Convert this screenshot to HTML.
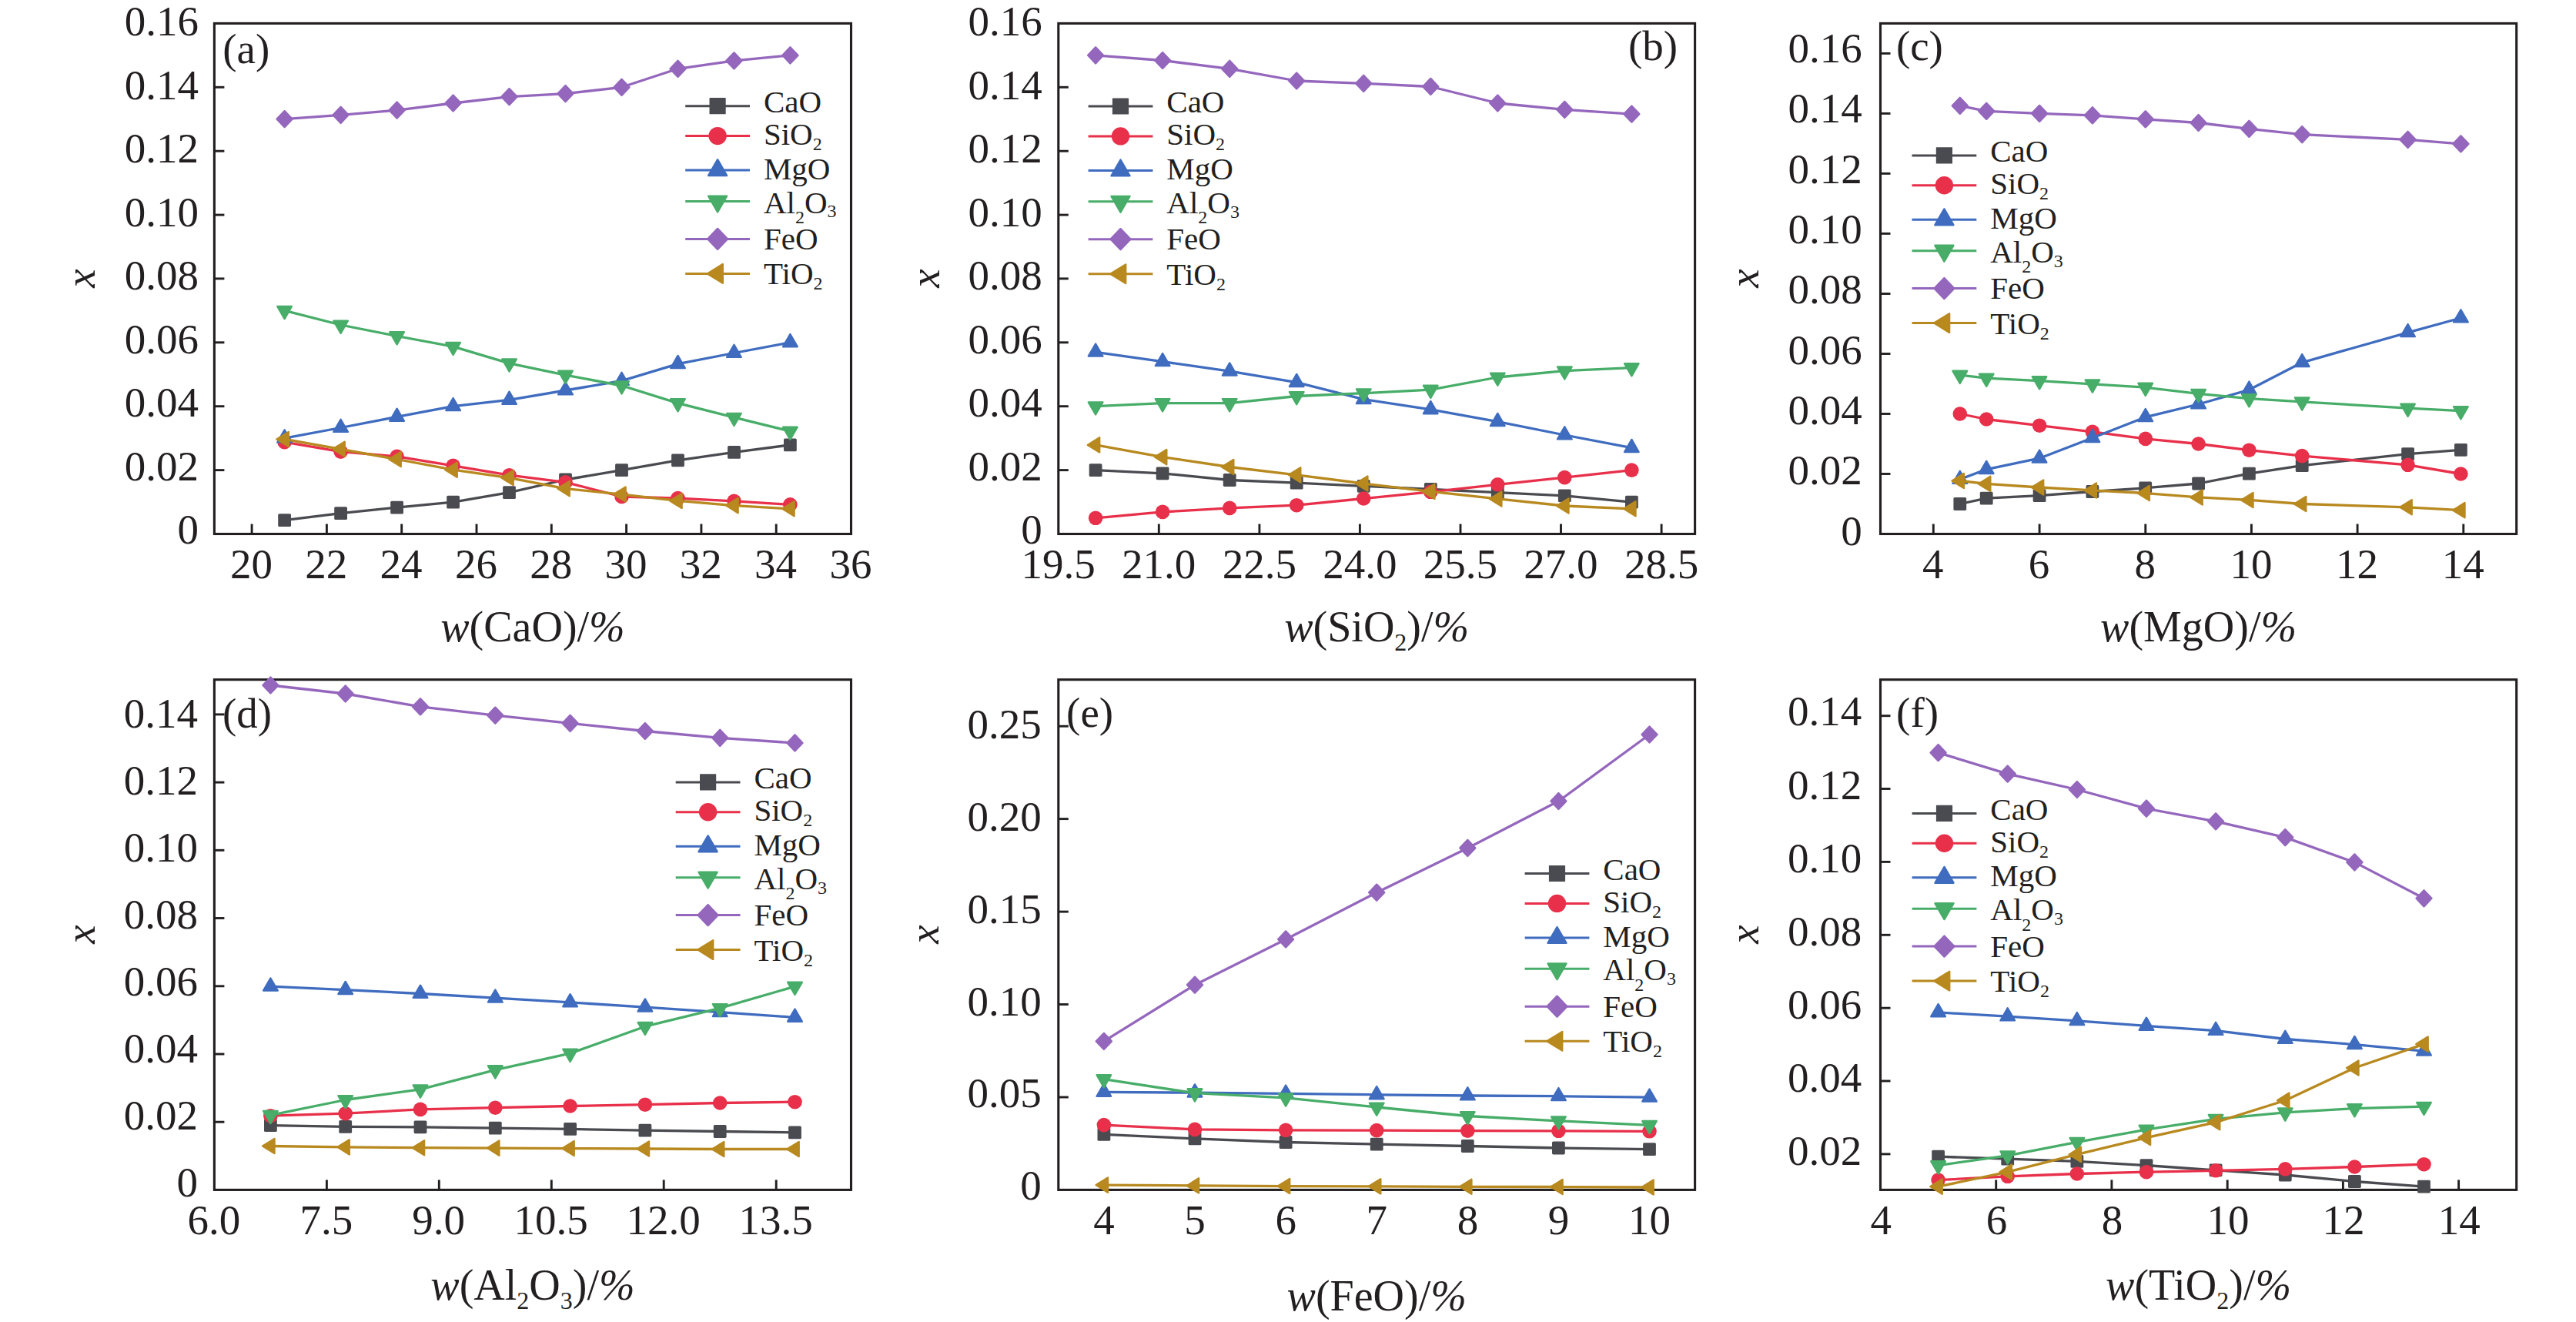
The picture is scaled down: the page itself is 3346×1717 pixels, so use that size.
<!DOCTYPE html>
<html lang="en">
<head>
<meta charset="utf-8">
<title>Component fractions versus slag composition</title>
<style>
html,body{margin:0;padding:0;background:#fff;}
body{width:3346px;height:1717px;overflow:hidden;}
svg{display:block;}
svg text{font-family:"Liberation Serif","Times New Roman",Times,serif;fill:#231f20;}
</style>
</head>
<body>
<svg width="3346" height="1717" viewBox="0 0 3346 1717">
<rect x="0" y="0" width="3346" height="1717" fill="#ffffff"/>
<g>
<line x1="327.1" y1="693.5" x2="327.1" y2="680.5" stroke="#231f20" stroke-width="2.9"/>
<line x1="424.4" y1="693.5" x2="424.4" y2="680.5" stroke="#231f20" stroke-width="2.9"/>
<line x1="521.7" y1="693.5" x2="521.7" y2="680.5" stroke="#231f20" stroke-width="2.9"/>
<line x1="619" y1="693.5" x2="619" y2="680.5" stroke="#231f20" stroke-width="2.9"/>
<line x1="716.3" y1="693.5" x2="716.3" y2="680.5" stroke="#231f20" stroke-width="2.9"/>
<line x1="813.6" y1="693.5" x2="813.6" y2="680.5" stroke="#231f20" stroke-width="2.9"/>
<line x1="910.9" y1="693.5" x2="910.9" y2="680.5" stroke="#231f20" stroke-width="2.9"/>
<line x1="1008.2" y1="693.5" x2="1008.2" y2="680.5" stroke="#231f20" stroke-width="2.9"/>
<line x1="278.4" y1="610.6" x2="291.4" y2="610.6" stroke="#231f20" stroke-width="2.9"/>
<line x1="278.4" y1="527.7" x2="291.4" y2="527.7" stroke="#231f20" stroke-width="2.9"/>
<line x1="278.4" y1="444.8" x2="291.4" y2="444.8" stroke="#231f20" stroke-width="2.9"/>
<line x1="278.4" y1="361.9" x2="291.4" y2="361.9" stroke="#231f20" stroke-width="2.9"/>
<line x1="278.4" y1="279.1" x2="291.4" y2="279.1" stroke="#231f20" stroke-width="2.9"/>
<line x1="278.4" y1="196.2" x2="291.4" y2="196.2" stroke="#231f20" stroke-width="2.9"/>
<line x1="278.4" y1="113.3" x2="291.4" y2="113.3" stroke="#231f20" stroke-width="2.9"/>
<rect x="278.4" y="30.4" width="827.1" height="663.1" fill="none" stroke="#231f20" stroke-width="3.1"/>
<text x="326.5" y="750.7" font-size="55" text-anchor="middle">20</text>
<text x="423.8" y="750.7" font-size="55" text-anchor="middle">22</text>
<text x="521.1" y="750.7" font-size="55" text-anchor="middle">24</text>
<text x="618.4" y="750.7" font-size="55" text-anchor="middle">26</text>
<text x="715.7" y="750.7" font-size="55" text-anchor="middle">28</text>
<text x="813" y="750.7" font-size="55" text-anchor="middle">30</text>
<text x="910.3" y="750.7" font-size="55" text-anchor="middle">32</text>
<text x="1007.6" y="750.7" font-size="55" text-anchor="middle">34</text>
<text x="1104.9" y="750.7" font-size="55" text-anchor="middle">36</text>
<text x="257.9" y="706.2" font-size="55" text-anchor="end">0</text>
<text x="257.9" y="623.7" font-size="55" text-anchor="end">0.02</text>
<text x="257.9" y="541.1" font-size="55" text-anchor="end">0.04</text>
<text x="257.9" y="458.6" font-size="55" text-anchor="end">0.06</text>
<text x="257.9" y="376.1" font-size="55" text-anchor="end">0.08</text>
<text x="257.9" y="293.6" font-size="55" text-anchor="end">0.10</text>
<text x="257.9" y="211" font-size="55" text-anchor="end">0.12</text>
<text x="257.9" y="128.5" font-size="55" text-anchor="end">0.14</text>
<text x="257.9" y="46" font-size="55" text-anchor="end">0.16</text>
<text x="692" y="833" font-size="56" text-anchor="middle"><tspan font-style="italic">w</tspan>(CaO)/<tspan font-style="italic">%</tspan></text>
<text transform="translate(122.7,361.6) rotate(-90)" font-size="55" text-anchor="middle" font-style="italic">x</text>
<text x="289.2" y="82" font-size="55" text-anchor="start">(a)</text>
<polyline points="369.6,675.7 442.6,666.6 515.6,659.1 588.6,652.1 661.5,639.6 734.5,623 807.5,610.6 880.5,597.8 953.5,587.4 1026.4,577.9" fill="none" stroke="#4a4b50" stroke-width="3.3" stroke-linejoin="round"/>
<rect x="361.2" y="667.3" width="16.8" height="16.8" rx="1.6" fill="#4a4b50"/>
<rect x="434.2" y="658.2" width="16.8" height="16.8" rx="1.6" fill="#4a4b50"/>
<rect x="507.2" y="650.7" width="16.8" height="16.8" rx="1.6" fill="#4a4b50"/>
<rect x="580.2" y="643.7" width="16.8" height="16.8" rx="1.6" fill="#4a4b50"/>
<rect x="653.1" y="631.2" width="16.8" height="16.8" rx="1.6" fill="#4a4b50"/>
<rect x="726.1" y="614.6" width="16.8" height="16.8" rx="1.6" fill="#4a4b50"/>
<rect x="799.1" y="602.2" width="16.8" height="16.8" rx="1.6" fill="#4a4b50"/>
<rect x="872.1" y="589.4" width="16.8" height="16.8" rx="1.6" fill="#4a4b50"/>
<rect x="945.1" y="579" width="16.8" height="16.8" rx="1.6" fill="#4a4b50"/>
<rect x="1018" y="569.5" width="16.8" height="16.8" rx="1.6" fill="#4a4b50"/>
<polyline points="369.6,574.1 442.6,586.6 515.6,592.8 588.6,604.8 661.5,617.2 734.5,626.4 807.5,645 880.5,647.1 953.5,650.8 1026.4,655.4" fill="none" stroke="#e8304a" stroke-width="3.3" stroke-linejoin="round"/>
<circle cx="369.6" cy="574.1" r="9.3" fill="#e8304a"/>
<circle cx="442.6" cy="586.6" r="9.3" fill="#e8304a"/>
<circle cx="515.6" cy="592.8" r="9.3" fill="#e8304a"/>
<circle cx="588.6" cy="604.8" r="9.3" fill="#e8304a"/>
<circle cx="661.5" cy="617.2" r="9.3" fill="#e8304a"/>
<circle cx="734.5" cy="626.4" r="9.3" fill="#e8304a"/>
<circle cx="807.5" cy="645" r="9.3" fill="#e8304a"/>
<circle cx="880.5" cy="647.1" r="9.3" fill="#e8304a"/>
<circle cx="953.5" cy="650.8" r="9.3" fill="#e8304a"/>
<circle cx="1026.4" cy="655.4" r="9.3" fill="#e8304a"/>
<polyline points="369.6,569.2 442.6,555.5 515.6,541.4 588.6,527.7 661.5,519.4 734.5,507 807.5,494.6 880.5,472.6 953.5,458.5 1026.4,444.8" fill="none" stroke="#3f6cbf" stroke-width="3.3" stroke-linejoin="round"/>
<polygon points="369.6,558.4 378.9,574.5 360.3,574.5" fill="#3f6cbf" stroke="#3f6cbf" stroke-width="2.4" stroke-linejoin="round"/>
<polygon points="442.6,544.8 451.9,560.9 433.3,560.9" fill="#3f6cbf" stroke="#3f6cbf" stroke-width="2.4" stroke-linejoin="round"/>
<polygon points="515.6,530.7 524.9,546.8 506.3,546.8" fill="#3f6cbf" stroke="#3f6cbf" stroke-width="2.4" stroke-linejoin="round"/>
<polygon points="588.6,517 597.9,533.1 579.3,533.1" fill="#3f6cbf" stroke="#3f6cbf" stroke-width="2.4" stroke-linejoin="round"/>
<polygon points="661.5,508.7 670.8,524.8 652.3,524.8" fill="#3f6cbf" stroke="#3f6cbf" stroke-width="2.4" stroke-linejoin="round"/>
<polygon points="734.5,496.3 743.8,512.4 725.2,512.4" fill="#3f6cbf" stroke="#3f6cbf" stroke-width="2.4" stroke-linejoin="round"/>
<polygon points="807.5,483.8 816.8,499.9 798.2,499.9" fill="#3f6cbf" stroke="#3f6cbf" stroke-width="2.4" stroke-linejoin="round"/>
<polygon points="880.5,461.9 889.8,478 871.2,478" fill="#3f6cbf" stroke="#3f6cbf" stroke-width="2.4" stroke-linejoin="round"/>
<polygon points="953.5,447.8 962.7,463.9 944.2,463.9" fill="#3f6cbf" stroke="#3f6cbf" stroke-width="2.4" stroke-linejoin="round"/>
<polygon points="1026.4,434.1 1035.7,450.2 1017.1,450.2" fill="#3f6cbf" stroke="#3f6cbf" stroke-width="2.4" stroke-linejoin="round"/>
<polyline points="369.6,403.4 442.6,422 515.6,436.5 588.6,450.2 661.5,471.8 734.5,487.1 807.5,500.8 880.5,523.6 953.5,542.2 1026.4,560.1" fill="none" stroke="#47ad68" stroke-width="3.3" stroke-linejoin="round"/>
<polygon points="369.6,414.1 378.9,398 360.3,398" fill="#47ad68" stroke="#47ad68" stroke-width="2.4" stroke-linejoin="round"/>
<polygon points="442.6,432.8 451.9,416.7 433.3,416.7" fill="#47ad68" stroke="#47ad68" stroke-width="2.4" stroke-linejoin="round"/>
<polygon points="515.6,447.3 524.9,431.2 506.3,431.2" fill="#47ad68" stroke="#47ad68" stroke-width="2.4" stroke-linejoin="round"/>
<polygon points="588.6,461 597.9,444.9 579.3,444.9" fill="#47ad68" stroke="#47ad68" stroke-width="2.4" stroke-linejoin="round"/>
<polygon points="661.5,482.5 670.8,466.4 652.3,466.4" fill="#47ad68" stroke="#47ad68" stroke-width="2.4" stroke-linejoin="round"/>
<polygon points="734.5,497.8 743.8,481.7 725.2,481.7" fill="#47ad68" stroke="#47ad68" stroke-width="2.4" stroke-linejoin="round"/>
<polygon points="807.5,511.5 816.8,495.4 798.2,495.4" fill="#47ad68" stroke="#47ad68" stroke-width="2.4" stroke-linejoin="round"/>
<polygon points="880.5,534.3 889.8,518.2 871.2,518.2" fill="#47ad68" stroke="#47ad68" stroke-width="2.4" stroke-linejoin="round"/>
<polygon points="953.5,553 962.7,536.9 944.2,536.9" fill="#47ad68" stroke="#47ad68" stroke-width="2.4" stroke-linejoin="round"/>
<polygon points="1026.4,570.8 1035.7,554.7 1017.1,554.7" fill="#47ad68" stroke="#47ad68" stroke-width="2.4" stroke-linejoin="round"/>
<polyline points="369.6,154.7 442.6,149.3 515.6,143.1 588.6,134 661.5,125.7 734.5,121.6 807.5,113.3 880.5,89.3 953.5,78.9 1026.4,71.8" fill="none" stroke="#9467bd" stroke-width="3.3" stroke-linejoin="round"/>
<polygon points="369.6,144.2 379.6,154.7 369.6,165.2 359.6,154.7" fill="#9467bd" stroke="#9467bd" stroke-width="2.4" stroke-linejoin="round"/>
<polygon points="442.6,138.8 452.6,149.3 442.6,159.9 432.6,149.3" fill="#9467bd" stroke="#9467bd" stroke-width="2.4" stroke-linejoin="round"/>
<polygon points="515.6,132.6 525.6,143.1 515.6,153.6 505.6,143.1" fill="#9467bd" stroke="#9467bd" stroke-width="2.4" stroke-linejoin="round"/>
<polygon points="588.6,123.5 598.6,134 588.6,144.5 578.5,134" fill="#9467bd" stroke="#9467bd" stroke-width="2.4" stroke-linejoin="round"/>
<polygon points="661.5,115.2 671.6,125.7 661.5,136.2 651.5,125.7" fill="#9467bd" stroke="#9467bd" stroke-width="2.4" stroke-linejoin="round"/>
<polygon points="734.5,111.1 744.5,121.6 734.5,132.1 724.5,121.6" fill="#9467bd" stroke="#9467bd" stroke-width="2.4" stroke-linejoin="round"/>
<polygon points="807.5,102.8 817.5,113.3 807.5,123.8 797.5,113.3" fill="#9467bd" stroke="#9467bd" stroke-width="2.4" stroke-linejoin="round"/>
<polygon points="880.5,78.7 890.5,89.3 880.5,99.8 870.5,89.3" fill="#9467bd" stroke="#9467bd" stroke-width="2.4" stroke-linejoin="round"/>
<polygon points="953.5,68.4 963.5,78.9 953.5,89.4 943.4,78.9" fill="#9467bd" stroke="#9467bd" stroke-width="2.4" stroke-linejoin="round"/>
<polygon points="1026.4,61.3 1036.5,71.8 1026.4,82.4 1016.4,71.8" fill="#9467bd" stroke="#9467bd" stroke-width="2.4" stroke-linejoin="round"/>
<polyline points="369.6,570.4 442.6,583.3 515.6,596.5 588.6,610.2 661.5,620.6 734.5,634.6 807.5,642.1 880.5,650.4 953.5,656.6 1026.4,660.8" fill="none" stroke="#b8891f" stroke-width="3.3" stroke-linejoin="round"/>
<polygon points="359.4,570.4 374.8,560.9 374.8,580" fill="#b8891f" stroke="#b8891f" stroke-width="2.4" stroke-linejoin="round"/>
<polygon points="432.3,583.3 447.7,573.7 447.7,592.8" fill="#b8891f" stroke="#b8891f" stroke-width="2.4" stroke-linejoin="round"/>
<polygon points="505.3,596.5 520.7,587 520.7,606.1" fill="#b8891f" stroke="#b8891f" stroke-width="2.4" stroke-linejoin="round"/>
<polygon points="578.3,610.2 593.7,600.7 593.7,619.7" fill="#b8891f" stroke="#b8891f" stroke-width="2.4" stroke-linejoin="round"/>
<polygon points="651.3,620.6 666.7,611 666.7,630.1" fill="#b8891f" stroke="#b8891f" stroke-width="2.4" stroke-linejoin="round"/>
<polygon points="724.3,634.6 739.7,625.1 739.7,644.2" fill="#b8891f" stroke="#b8891f" stroke-width="2.4" stroke-linejoin="round"/>
<polygon points="797.2,642.1 812.6,632.6 812.6,651.6" fill="#b8891f" stroke="#b8891f" stroke-width="2.4" stroke-linejoin="round"/>
<polygon points="870.2,650.4 885.6,640.9 885.6,659.9" fill="#b8891f" stroke="#b8891f" stroke-width="2.4" stroke-linejoin="round"/>
<polygon points="943.2,656.6 958.6,647.1 958.6,666.2" fill="#b8891f" stroke="#b8891f" stroke-width="2.4" stroke-linejoin="round"/>
<polygon points="1016.2,660.8 1031.6,651.2 1031.6,670.3" fill="#b8891f" stroke="#b8891f" stroke-width="2.4" stroke-linejoin="round"/>
<line x1="890.2" y1="137.7" x2="974" y2="137.7" stroke="#4a4b50" stroke-width="3.0"/>
<rect x="921.5" y="127.1" width="21.2" height="21.2" rx="0.6" fill="#4a4b50"/>
<text x="991.9" y="146.1" font-size="41" text-anchor="start">CaO</text>
<line x1="890.2" y1="176.6" x2="974" y2="176.6" stroke="#e8304a" stroke-width="3.0"/>
<circle cx="932.1" cy="176.6" r="11.7" fill="#e8304a"/>
<text x="991.9" y="187.8" font-size="41" text-anchor="start">SiO<tspan dy="7" font-size="24">2</tspan></text>
<line x1="890.2" y1="221.1" x2="974" y2="221.1" stroke="#3f6cbf" stroke-width="3.0"/>
<polygon points="932.1,207.2 944.1,228 920.1,228" fill="#3f6cbf" stroke="#3f6cbf" stroke-width="2.4" stroke-linejoin="round"/>
<text x="991.9" y="232.7" font-size="41" text-anchor="start">MgO</text>
<line x1="890.2" y1="261.5" x2="974" y2="261.5" stroke="#47ad68" stroke-width="3.0"/>
<polygon points="932.1,275.4 944.1,254.6 920.1,254.6" fill="#47ad68" stroke="#47ad68" stroke-width="2.4" stroke-linejoin="round"/>
<text x="991.9" y="276.6" font-size="41" text-anchor="start">Al<tspan dy="13.4" font-size="24">2</tspan><tspan dy="-13.4">O</tspan><tspan dy="5.7" font-size="24">3</tspan></text>
<line x1="890.2" y1="310.4" x2="974" y2="310.4" stroke="#9467bd" stroke-width="3.0"/>
<polygon points="932.1,296.9 945,310.4 932.1,323.9 919.2,310.4" fill="#9467bd" stroke="#9467bd" stroke-width="2.4" stroke-linejoin="round"/>
<text x="991.9" y="323.8" font-size="41" text-anchor="start">FeO</text>
<line x1="890.2" y1="355.4" x2="974" y2="355.4" stroke="#b8891f" stroke-width="3.0"/>
<polygon points="918.8,355.4 938.8,343.1 938.8,367.7" fill="#b8891f" stroke="#b8891f" stroke-width="2.4" stroke-linejoin="round"/>
<text x="991.9" y="369.4" font-size="41" text-anchor="start">TiO<tspan dy="7" font-size="24">2</tspan></text>
</g>
<g>
<line x1="1505.3" y1="693.5" x2="1505.3" y2="680.5" stroke="#231f20" stroke-width="2.9"/>
<line x1="1635.9" y1="693.5" x2="1635.9" y2="680.5" stroke="#231f20" stroke-width="2.9"/>
<line x1="1766.4" y1="693.5" x2="1766.4" y2="680.5" stroke="#231f20" stroke-width="2.9"/>
<line x1="1897" y1="693.5" x2="1897" y2="680.5" stroke="#231f20" stroke-width="2.9"/>
<line x1="2027.5" y1="693.5" x2="2027.5" y2="680.5" stroke="#231f20" stroke-width="2.9"/>
<line x1="2158.1" y1="693.5" x2="2158.1" y2="680.5" stroke="#231f20" stroke-width="2.9"/>
<line x1="1374.8" y1="610.6" x2="1387.8" y2="610.6" stroke="#231f20" stroke-width="2.9"/>
<line x1="1374.8" y1="527.7" x2="1387.8" y2="527.7" stroke="#231f20" stroke-width="2.9"/>
<line x1="1374.8" y1="444.8" x2="1387.8" y2="444.8" stroke="#231f20" stroke-width="2.9"/>
<line x1="1374.8" y1="361.9" x2="1387.8" y2="361.9" stroke="#231f20" stroke-width="2.9"/>
<line x1="1374.8" y1="279.1" x2="1387.8" y2="279.1" stroke="#231f20" stroke-width="2.9"/>
<line x1="1374.8" y1="196.2" x2="1387.8" y2="196.2" stroke="#231f20" stroke-width="2.9"/>
<line x1="1374.8" y1="113.3" x2="1387.8" y2="113.3" stroke="#231f20" stroke-width="2.9"/>
<rect x="1374.8" y="30.4" width="826.8" height="663.1" fill="none" stroke="#231f20" stroke-width="3.1"/>
<text x="1374.7" y="750.7" font-size="55" text-anchor="middle">19.5</text>
<text x="1505.2" y="750.7" font-size="55" text-anchor="middle">21.0</text>
<text x="1635.8" y="750.7" font-size="55" text-anchor="middle">22.5</text>
<text x="1766.3" y="750.7" font-size="55" text-anchor="middle">24.0</text>
<text x="1896.9" y="750.7" font-size="55" text-anchor="middle">25.5</text>
<text x="2027.4" y="750.7" font-size="55" text-anchor="middle">27.0</text>
<text x="2158" y="750.7" font-size="55" text-anchor="middle">28.5</text>
<text x="1353.8" y="706.1" font-size="55" text-anchor="end">0</text>
<text x="1353.8" y="623.6" font-size="55" text-anchor="end">0.02</text>
<text x="1353.8" y="541.1" font-size="55" text-anchor="end">0.04</text>
<text x="1353.8" y="458.6" font-size="55" text-anchor="end">0.06</text>
<text x="1353.8" y="376.1" font-size="55" text-anchor="end">0.08</text>
<text x="1353.8" y="293.6" font-size="55" text-anchor="end">0.10</text>
<text x="1353.8" y="211.1" font-size="55" text-anchor="end">0.12</text>
<text x="1353.8" y="128.5" font-size="55" text-anchor="end">0.14</text>
<text x="1353.8" y="46" font-size="55" text-anchor="end">0.16</text>
<text x="1788.2" y="833" font-size="56" text-anchor="middle"><tspan font-style="italic">w</tspan>(SiO<tspan dy="12" font-size="32">2</tspan><tspan dy="-12">)</tspan>/<tspan font-style="italic">%</tspan></text>
<text transform="translate(1219.7,361.6) rotate(-90)" font-size="55" text-anchor="middle" font-style="italic">x</text>
<text x="2115" y="78.3" font-size="55" text-anchor="start">(b)</text>
<polyline points="1423.1,610.6 1510.1,614.8 1597.2,623.5 1684.2,627.2 1771.2,631.3 1858.3,635.5 1945.3,639.6 2032.3,643.8 2119.4,652.1" fill="none" stroke="#4a4b50" stroke-width="3.3" stroke-linejoin="round"/>
<rect x="1414.7" y="602.2" width="16.8" height="16.8" rx="1.6" fill="#4a4b50"/>
<rect x="1501.7" y="606.4" width="16.8" height="16.8" rx="1.6" fill="#4a4b50"/>
<rect x="1588.8" y="615.1" width="16.8" height="16.8" rx="1.6" fill="#4a4b50"/>
<rect x="1675.8" y="618.8" width="16.8" height="16.8" rx="1.6" fill="#4a4b50"/>
<rect x="1762.8" y="622.9" width="16.8" height="16.8" rx="1.6" fill="#4a4b50"/>
<rect x="1849.9" y="627.1" width="16.8" height="16.8" rx="1.6" fill="#4a4b50"/>
<rect x="1936.9" y="631.2" width="16.8" height="16.8" rx="1.6" fill="#4a4b50"/>
<rect x="2023.9" y="635.4" width="16.8" height="16.8" rx="1.6" fill="#4a4b50"/>
<rect x="2111" y="643.7" width="16.8" height="16.8" rx="1.6" fill="#4a4b50"/>
<polyline points="1423.1,672.8 1510.1,664.9 1597.2,659.9 1684.2,656.2 1771.2,647.5 1858.3,638.8 1945.3,629.3 2032.3,620.1 2119.4,610.6" fill="none" stroke="#e8304a" stroke-width="3.3" stroke-linejoin="round"/>
<circle cx="1423.1" cy="672.8" r="9.3" fill="#e8304a"/>
<circle cx="1510.1" cy="664.9" r="9.3" fill="#e8304a"/>
<circle cx="1597.2" cy="659.9" r="9.3" fill="#e8304a"/>
<circle cx="1684.2" cy="656.2" r="9.3" fill="#e8304a"/>
<circle cx="1771.2" cy="647.5" r="9.3" fill="#e8304a"/>
<circle cx="1858.3" cy="638.8" r="9.3" fill="#e8304a"/>
<circle cx="1945.3" cy="629.3" r="9.3" fill="#e8304a"/>
<circle cx="2032.3" cy="620.1" r="9.3" fill="#e8304a"/>
<circle cx="2119.4" cy="610.6" r="9.3" fill="#e8304a"/>
<polyline points="1423.1,457.3 1510.1,469.7 1597.2,482.1 1684.2,496.6 1771.2,518.6 1858.3,531.9 1945.3,547.6 2032.3,565 2119.4,581.6" fill="none" stroke="#3f6cbf" stroke-width="3.3" stroke-linejoin="round"/>
<polygon points="1423.1,446.5 1432.4,462.6 1413.8,462.6" fill="#3f6cbf" stroke="#3f6cbf" stroke-width="2.4" stroke-linejoin="round"/>
<polygon points="1510.1,459 1519.4,475.1 1500.8,475.1" fill="#3f6cbf" stroke="#3f6cbf" stroke-width="2.4" stroke-linejoin="round"/>
<polygon points="1597.2,471.4 1606.5,487.5 1587.9,487.5" fill="#3f6cbf" stroke="#3f6cbf" stroke-width="2.4" stroke-linejoin="round"/>
<polygon points="1684.2,485.9 1693.5,502 1674.9,502" fill="#3f6cbf" stroke="#3f6cbf" stroke-width="2.4" stroke-linejoin="round"/>
<polygon points="1771.2,507.9 1780.5,524 1761.9,524" fill="#3f6cbf" stroke="#3f6cbf" stroke-width="2.4" stroke-linejoin="round"/>
<polygon points="1858.3,521.1 1867.5,537.2 1849,537.2" fill="#3f6cbf" stroke="#3f6cbf" stroke-width="2.4" stroke-linejoin="round"/>
<polygon points="1945.3,536.9 1954.6,553 1936,553" fill="#3f6cbf" stroke="#3f6cbf" stroke-width="2.4" stroke-linejoin="round"/>
<polygon points="2032.3,554.3 2041.6,570.4 2023,570.4" fill="#3f6cbf" stroke="#3f6cbf" stroke-width="2.4" stroke-linejoin="round"/>
<polygon points="2119.4,570.9 2128.6,587 2110.1,587" fill="#3f6cbf" stroke="#3f6cbf" stroke-width="2.4" stroke-linejoin="round"/>
<polyline points="1423.1,527.7 1510.1,523.6 1597.2,523.6 1684.2,514.5 1771.2,510.7 1858.3,506.2 1945.3,490 2032.3,481.7 2119.4,477.6" fill="none" stroke="#47ad68" stroke-width="3.3" stroke-linejoin="round"/>
<polygon points="1423.1,538.5 1432.4,522.4 1413.8,522.4" fill="#47ad68" stroke="#47ad68" stroke-width="2.4" stroke-linejoin="round"/>
<polygon points="1510.1,534.3 1519.4,518.2 1500.8,518.2" fill="#47ad68" stroke="#47ad68" stroke-width="2.4" stroke-linejoin="round"/>
<polygon points="1597.2,534.3 1606.5,518.2 1587.9,518.2" fill="#47ad68" stroke="#47ad68" stroke-width="2.4" stroke-linejoin="round"/>
<polygon points="1684.2,525.2 1693.5,509.1 1674.9,509.1" fill="#47ad68" stroke="#47ad68" stroke-width="2.4" stroke-linejoin="round"/>
<polygon points="1771.2,521.5 1780.5,505.4 1761.9,505.4" fill="#47ad68" stroke="#47ad68" stroke-width="2.4" stroke-linejoin="round"/>
<polygon points="1858.3,516.9 1867.5,500.8 1849,500.8" fill="#47ad68" stroke="#47ad68" stroke-width="2.4" stroke-linejoin="round"/>
<polygon points="1945.3,500.7 1954.6,484.6 1936,484.6" fill="#47ad68" stroke="#47ad68" stroke-width="2.4" stroke-linejoin="round"/>
<polygon points="2032.3,492.5 2041.6,476.4 2023,476.4" fill="#47ad68" stroke="#47ad68" stroke-width="2.4" stroke-linejoin="round"/>
<polygon points="2119.4,488.3 2128.6,472.2 2110.1,472.2" fill="#47ad68" stroke="#47ad68" stroke-width="2.4" stroke-linejoin="round"/>
<polyline points="1423.1,71.8 1510.1,78.5 1597.2,89.3 1684.2,105 1771.2,108.3 1858.3,112.5 1945.3,134 2032.3,142.3 2119.4,148.1" fill="none" stroke="#9467bd" stroke-width="3.3" stroke-linejoin="round"/>
<polygon points="1423.1,61.3 1433.1,71.8 1423.1,82.4 1413.1,71.8" fill="#9467bd" stroke="#9467bd" stroke-width="2.4" stroke-linejoin="round"/>
<polygon points="1510.1,68 1520.1,78.5 1510.1,89 1500.1,78.5" fill="#9467bd" stroke="#9467bd" stroke-width="2.4" stroke-linejoin="round"/>
<polygon points="1597.2,78.7 1607.2,89.3 1597.2,99.8 1587.2,89.3" fill="#9467bd" stroke="#9467bd" stroke-width="2.4" stroke-linejoin="round"/>
<polygon points="1684.2,94.5 1694.2,105 1684.2,115.5 1674.2,105" fill="#9467bd" stroke="#9467bd" stroke-width="2.4" stroke-linejoin="round"/>
<polygon points="1771.2,97.8 1781.2,108.3 1771.2,118.8 1761.2,108.3" fill="#9467bd" stroke="#9467bd" stroke-width="2.4" stroke-linejoin="round"/>
<polygon points="1858.3,101.9 1868.3,112.5 1858.3,123 1848.2,112.5" fill="#9467bd" stroke="#9467bd" stroke-width="2.4" stroke-linejoin="round"/>
<polygon points="1945.3,123.5 1955.3,134 1945.3,144.5 1935.3,134" fill="#9467bd" stroke="#9467bd" stroke-width="2.4" stroke-linejoin="round"/>
<polygon points="2032.3,131.8 2042.3,142.3 2032.3,152.8 2022.3,142.3" fill="#9467bd" stroke="#9467bd" stroke-width="2.4" stroke-linejoin="round"/>
<polygon points="2119.4,137.6 2129.4,148.1 2119.4,158.6 2109.3,148.1" fill="#9467bd" stroke="#9467bd" stroke-width="2.4" stroke-linejoin="round"/>
<polyline points="1423.1,577.9 1510.1,593.6 1597.2,606.5 1684.2,616.8 1771.2,628 1858.3,638.4 1945.3,647.9 2032.3,657 2119.4,660.8" fill="none" stroke="#b8891f" stroke-width="3.3" stroke-linejoin="round"/>
<polygon points="1412.8,577.9 1428.2,568.3 1428.2,587.4" fill="#b8891f" stroke="#b8891f" stroke-width="2.4" stroke-linejoin="round"/>
<polygon points="1499.9,593.6 1515.3,584.1 1515.3,603.2" fill="#b8891f" stroke="#b8891f" stroke-width="2.4" stroke-linejoin="round"/>
<polygon points="1586.9,606.5 1602.3,596.9 1602.3,616" fill="#b8891f" stroke="#b8891f" stroke-width="2.4" stroke-linejoin="round"/>
<polygon points="1673.9,616.8 1689.3,607.3 1689.3,626.4" fill="#b8891f" stroke="#b8891f" stroke-width="2.4" stroke-linejoin="round"/>
<polygon points="1761,628 1776.4,618.5 1776.4,637.6" fill="#b8891f" stroke="#b8891f" stroke-width="2.4" stroke-linejoin="round"/>
<polygon points="1848,638.4 1863.4,628.8 1863.4,647.9" fill="#b8891f" stroke="#b8891f" stroke-width="2.4" stroke-linejoin="round"/>
<polygon points="1935,647.9 1950.4,638.4 1950.4,657.5" fill="#b8891f" stroke="#b8891f" stroke-width="2.4" stroke-linejoin="round"/>
<polygon points="2022.1,657 2037.5,647.5 2037.5,666.6" fill="#b8891f" stroke="#b8891f" stroke-width="2.4" stroke-linejoin="round"/>
<polygon points="2109.1,660.8 2124.5,651.2 2124.5,670.3" fill="#b8891f" stroke="#b8891f" stroke-width="2.4" stroke-linejoin="round"/>
<line x1="1413.6" y1="138" x2="1497.4" y2="138" stroke="#4a4b50" stroke-width="3.0"/>
<rect x="1444.9" y="127.4" width="21.2" height="21.2" rx="0.6" fill="#4a4b50"/>
<text x="1515.3" y="146.4" font-size="41" text-anchor="start">CaO</text>
<line x1="1413.6" y1="176.9" x2="1497.4" y2="176.9" stroke="#e8304a" stroke-width="3.0"/>
<circle cx="1455.5" cy="176.9" r="11.7" fill="#e8304a"/>
<text x="1515.3" y="188.1" font-size="41" text-anchor="start">SiO<tspan dy="7" font-size="24">2</tspan></text>
<line x1="1413.6" y1="221.4" x2="1497.4" y2="221.4" stroke="#3f6cbf" stroke-width="3.0"/>
<polygon points="1455.5,207.5 1467.5,228.3 1443.5,228.3" fill="#3f6cbf" stroke="#3f6cbf" stroke-width="2.4" stroke-linejoin="round"/>
<text x="1515.3" y="233" font-size="41" text-anchor="start">MgO</text>
<line x1="1413.6" y1="261.8" x2="1497.4" y2="261.8" stroke="#47ad68" stroke-width="3.0"/>
<polygon points="1455.5,275.7 1467.5,254.9 1443.5,254.9" fill="#47ad68" stroke="#47ad68" stroke-width="2.4" stroke-linejoin="round"/>
<text x="1515.3" y="276.9" font-size="41" text-anchor="start">Al<tspan dy="13.4" font-size="24">2</tspan><tspan dy="-13.4">O</tspan><tspan dy="5.7" font-size="24">3</tspan></text>
<line x1="1413.6" y1="310.7" x2="1497.4" y2="310.7" stroke="#9467bd" stroke-width="3.0"/>
<polygon points="1455.5,297.2 1468.4,310.7 1455.5,324.2 1442.6,310.7" fill="#9467bd" stroke="#9467bd" stroke-width="2.4" stroke-linejoin="round"/>
<text x="1515.3" y="324.1" font-size="41" text-anchor="start">FeO</text>
<line x1="1413.6" y1="355.7" x2="1497.4" y2="355.7" stroke="#b8891f" stroke-width="3.0"/>
<polygon points="1442.2,355.7 1462.2,343.4 1462.2,368" fill="#b8891f" stroke="#b8891f" stroke-width="2.4" stroke-linejoin="round"/>
<text x="1515.3" y="369.7" font-size="41" text-anchor="start">TiO<tspan dy="7" font-size="24">2</tspan></text>
</g>
<g>
<line x1="2511.3" y1="693.5" x2="2511.3" y2="680.5" stroke="#231f20" stroke-width="2.9"/>
<line x1="2649.1" y1="693.5" x2="2649.1" y2="680.5" stroke="#231f20" stroke-width="2.9"/>
<line x1="2786.8" y1="693.5" x2="2786.8" y2="680.5" stroke="#231f20" stroke-width="2.9"/>
<line x1="2924.4" y1="693.5" x2="2924.4" y2="680.5" stroke="#231f20" stroke-width="2.9"/>
<line x1="3062.1" y1="693.5" x2="3062.1" y2="680.5" stroke="#231f20" stroke-width="2.9"/>
<line x1="3199.8" y1="693.5" x2="3199.8" y2="680.5" stroke="#231f20" stroke-width="2.9"/>
<line x1="2442.5" y1="615.5" x2="2455.5" y2="615.5" stroke="#231f20" stroke-width="2.9"/>
<line x1="2442.5" y1="537.5" x2="2455.5" y2="537.5" stroke="#231f20" stroke-width="2.9"/>
<line x1="2442.5" y1="459.5" x2="2455.5" y2="459.5" stroke="#231f20" stroke-width="2.9"/>
<line x1="2442.5" y1="381.5" x2="2455.5" y2="381.5" stroke="#231f20" stroke-width="2.9"/>
<line x1="2442.5" y1="303.4" x2="2455.5" y2="303.4" stroke="#231f20" stroke-width="2.9"/>
<line x1="2442.5" y1="225.4" x2="2455.5" y2="225.4" stroke="#231f20" stroke-width="2.9"/>
<line x1="2442.5" y1="147.4" x2="2455.5" y2="147.4" stroke="#231f20" stroke-width="2.9"/>
<line x1="2442.5" y1="69.4" x2="2455.5" y2="69.4" stroke="#231f20" stroke-width="2.9"/>
<rect x="2442.5" y="30.4" width="826.2" height="663.1" fill="none" stroke="#231f20" stroke-width="3.1"/>
<text x="2510.8" y="750.7" font-size="55" text-anchor="middle">4</text>
<text x="2648.6" y="750.7" font-size="55" text-anchor="middle">6</text>
<text x="2786.2" y="750.7" font-size="55" text-anchor="middle">8</text>
<text x="2923.9" y="750.7" font-size="55" text-anchor="middle">10</text>
<text x="3061.6" y="750.7" font-size="55" text-anchor="middle">12</text>
<text x="3199.3" y="750.7" font-size="55" text-anchor="middle">14</text>
<text x="2418.8" y="707.8" font-size="55" text-anchor="end">0</text>
<text x="2418.8" y="629.4" font-size="55" text-anchor="end">0.02</text>
<text x="2418.8" y="551.1" font-size="55" text-anchor="end">0.04</text>
<text x="2418.8" y="472.7" font-size="55" text-anchor="end">0.06</text>
<text x="2418.8" y="394.4" font-size="55" text-anchor="end">0.08</text>
<text x="2418.8" y="316" font-size="55" text-anchor="end">0.10</text>
<text x="2418.8" y="237.6" font-size="55" text-anchor="end">0.12</text>
<text x="2418.8" y="159.3" font-size="55" text-anchor="end">0.14</text>
<text x="2418.8" y="80.9" font-size="55" text-anchor="end">0.16</text>
<text x="2855.6" y="832.5" font-size="56" text-anchor="middle"><tspan font-style="italic">w</tspan>(MgO)/<tspan font-style="italic">%</tspan></text>
<text transform="translate(2283.7,361.6) rotate(-90)" font-size="55" text-anchor="middle" font-style="italic">x</text>
<text x="2462.9" y="77.6" font-size="55" text-anchor="start">(c)</text>
<polyline points="2545.8,654.5 2580.2,647.1 2649.1,643.6 2717.9,638.5 2786.8,633.8 2855.6,628 2921.4,615.1 2990.2,604.6 3127.6,589.7 3196.4,584.3" fill="none" stroke="#4a4b50" stroke-width="3.3" stroke-linejoin="round"/>
<rect x="2537.4" y="646.1" width="16.8" height="16.8" rx="1.6" fill="#4a4b50"/>
<rect x="2571.8" y="638.7" width="16.8" height="16.8" rx="1.6" fill="#4a4b50"/>
<rect x="2640.7" y="635.2" width="16.8" height="16.8" rx="1.6" fill="#4a4b50"/>
<rect x="2709.5" y="630.1" width="16.8" height="16.8" rx="1.6" fill="#4a4b50"/>
<rect x="2778.3" y="625.4" width="16.8" height="16.8" rx="1.6" fill="#4a4b50"/>
<rect x="2847.2" y="619.6" width="16.8" height="16.8" rx="1.6" fill="#4a4b50"/>
<rect x="2913" y="606.7" width="16.8" height="16.8" rx="1.6" fill="#4a4b50"/>
<rect x="2981.8" y="596.2" width="16.8" height="16.8" rx="1.6" fill="#4a4b50"/>
<rect x="3119.2" y="581.3" width="16.8" height="16.8" rx="1.6" fill="#4a4b50"/>
<rect x="3188" y="575.9" width="16.8" height="16.8" rx="1.6" fill="#4a4b50"/>
<polyline points="2545.8,537.5 2580.2,544.5 2649.1,552.7 2717.9,560.9 2786.8,569.9 2855.6,576.5 2921.4,584.7 2990.2,592.1 3127.6,603.8 3196.4,615.5" fill="none" stroke="#e8304a" stroke-width="3.3" stroke-linejoin="round"/>
<circle cx="2545.8" cy="537.5" r="9.3" fill="#e8304a"/>
<circle cx="2580.2" cy="544.5" r="9.3" fill="#e8304a"/>
<circle cx="2649.1" cy="552.7" r="9.3" fill="#e8304a"/>
<circle cx="2717.9" cy="560.9" r="9.3" fill="#e8304a"/>
<circle cx="2786.8" cy="569.9" r="9.3" fill="#e8304a"/>
<circle cx="2855.6" cy="576.5" r="9.3" fill="#e8304a"/>
<circle cx="2921.4" cy="584.7" r="9.3" fill="#e8304a"/>
<circle cx="2990.2" cy="592.1" r="9.3" fill="#e8304a"/>
<circle cx="3127.6" cy="603.8" r="9.3" fill="#e8304a"/>
<circle cx="3196.4" cy="615.5" r="9.3" fill="#e8304a"/>
<polyline points="2545.8,622.5 2580.2,609.6 2649.1,595.2 2717.9,568.7 2786.8,541.8 2855.6,525 2921.4,506.3 2990.2,470.8 3127.6,431.8 3196.4,413" fill="none" stroke="#3f6cbf" stroke-width="3.3" stroke-linejoin="round"/>
<polygon points="2545.8,611.8 2555.1,627.9 2536.5,627.9" fill="#3f6cbf" stroke="#3f6cbf" stroke-width="2.4" stroke-linejoin="round"/>
<polygon points="2580.2,598.9 2589.5,615 2570.9,615" fill="#3f6cbf" stroke="#3f6cbf" stroke-width="2.4" stroke-linejoin="round"/>
<polygon points="2649.1,584.5 2658.3,600.6 2639.8,600.6" fill="#3f6cbf" stroke="#3f6cbf" stroke-width="2.4" stroke-linejoin="round"/>
<polygon points="2717.9,557.9 2727.2,574 2708.6,574" fill="#3f6cbf" stroke="#3f6cbf" stroke-width="2.4" stroke-linejoin="round"/>
<polygon points="2786.8,531 2796,547.1 2777.5,547.1" fill="#3f6cbf" stroke="#3f6cbf" stroke-width="2.4" stroke-linejoin="round"/>
<polygon points="2855.6,514.3 2864.9,530.4 2846.3,530.4" fill="#3f6cbf" stroke="#3f6cbf" stroke-width="2.4" stroke-linejoin="round"/>
<polygon points="2921.4,495.5 2930.6,511.6 2912.1,511.6" fill="#3f6cbf" stroke="#3f6cbf" stroke-width="2.4" stroke-linejoin="round"/>
<polygon points="2990.2,460 2999.5,476.1 2980.9,476.1" fill="#3f6cbf" stroke="#3f6cbf" stroke-width="2.4" stroke-linejoin="round"/>
<polygon points="3127.6,421 3136.8,437.1 3118.3,437.1" fill="#3f6cbf" stroke="#3f6cbf" stroke-width="2.4" stroke-linejoin="round"/>
<polygon points="3196.4,402.3 3205.7,418.4 3187.1,418.4" fill="#3f6cbf" stroke="#3f6cbf" stroke-width="2.4" stroke-linejoin="round"/>
<polyline points="2545.8,487.2 2580.2,491.1 2649.1,494.6 2717.9,498.9 2786.8,503.2 2855.6,511.3 2921.4,517.6 2990.2,521.9 3127.6,530.1 3196.4,533.6" fill="none" stroke="#47ad68" stroke-width="3.3" stroke-linejoin="round"/>
<polygon points="2545.8,497.9 2555.1,481.8 2536.5,481.8" fill="#47ad68" stroke="#47ad68" stroke-width="2.4" stroke-linejoin="round"/>
<polygon points="2580.2,501.8 2589.5,485.7 2570.9,485.7" fill="#47ad68" stroke="#47ad68" stroke-width="2.4" stroke-linejoin="round"/>
<polygon points="2649.1,505.3 2658.3,489.2 2639.8,489.2" fill="#47ad68" stroke="#47ad68" stroke-width="2.4" stroke-linejoin="round"/>
<polygon points="2717.9,509.6 2727.2,493.5 2708.6,493.5" fill="#47ad68" stroke="#47ad68" stroke-width="2.4" stroke-linejoin="round"/>
<polygon points="2786.8,513.9 2796,497.8 2777.5,497.8" fill="#47ad68" stroke="#47ad68" stroke-width="2.4" stroke-linejoin="round"/>
<polygon points="2855.6,522.1 2864.9,506 2846.3,506" fill="#47ad68" stroke="#47ad68" stroke-width="2.4" stroke-linejoin="round"/>
<polygon points="2921.4,528.3 2930.6,512.2 2912.1,512.2" fill="#47ad68" stroke="#47ad68" stroke-width="2.4" stroke-linejoin="round"/>
<polygon points="2990.2,532.6 2999.5,516.5 2980.9,516.5" fill="#47ad68" stroke="#47ad68" stroke-width="2.4" stroke-linejoin="round"/>
<polygon points="3127.6,540.8 3136.8,524.7 3118.3,524.7" fill="#47ad68" stroke="#47ad68" stroke-width="2.4" stroke-linejoin="round"/>
<polygon points="3196.4,544.3 3205.7,528.2 3187.1,528.2" fill="#47ad68" stroke="#47ad68" stroke-width="2.4" stroke-linejoin="round"/>
<polyline points="2545.8,137.3 2580.2,144.3 2649.1,147.4 2717.9,149.8 2786.8,154.8 2855.6,159.5 2921.4,167.3 2990.2,174.7 3127.6,181.4 3196.4,186.8" fill="none" stroke="#9467bd" stroke-width="3.3" stroke-linejoin="round"/>
<polygon points="2545.8,126.8 2555.8,137.3 2545.8,147.8 2535.8,137.3" fill="#9467bd" stroke="#9467bd" stroke-width="2.4" stroke-linejoin="round"/>
<polygon points="2580.2,133.8 2590.2,144.3 2580.2,154.8 2570.2,144.3" fill="#9467bd" stroke="#9467bd" stroke-width="2.4" stroke-linejoin="round"/>
<polygon points="2649.1,136.9 2659.1,147.4 2649.1,157.9 2639,147.4" fill="#9467bd" stroke="#9467bd" stroke-width="2.4" stroke-linejoin="round"/>
<polygon points="2717.9,139.2 2727.9,149.8 2717.9,160.3 2707.9,149.8" fill="#9467bd" stroke="#9467bd" stroke-width="2.4" stroke-linejoin="round"/>
<polygon points="2786.8,144.3 2796.8,154.8 2786.8,165.3 2776.7,154.8" fill="#9467bd" stroke="#9467bd" stroke-width="2.4" stroke-linejoin="round"/>
<polygon points="2855.6,149 2865.6,159.5 2855.6,170 2845.6,159.5" fill="#9467bd" stroke="#9467bd" stroke-width="2.4" stroke-linejoin="round"/>
<polygon points="2921.4,156.8 2931.4,167.3 2921.4,177.8 2911.3,167.3" fill="#9467bd" stroke="#9467bd" stroke-width="2.4" stroke-linejoin="round"/>
<polygon points="2990.2,164.2 3000.2,174.7 2990.2,185.2 2980.2,174.7" fill="#9467bd" stroke="#9467bd" stroke-width="2.4" stroke-linejoin="round"/>
<polygon points="3127.6,170.8 3137.6,181.4 3127.6,191.9 3117.5,181.4" fill="#9467bd" stroke="#9467bd" stroke-width="2.4" stroke-linejoin="round"/>
<polygon points="3196.4,176.3 3206.4,186.8 3196.4,197.3 3186.4,186.8" fill="#9467bd" stroke="#9467bd" stroke-width="2.4" stroke-linejoin="round"/>
<polyline points="2545.8,624.5 2580.2,628.4 2649.1,633 2717.9,636.9 2786.8,640.5 2855.6,645.9 2921.4,649.4 2990.2,654.5 3127.6,658.8 3196.4,662.7" fill="none" stroke="#b8891f" stroke-width="3.3" stroke-linejoin="round"/>
<polygon points="2535.5,624.5 2550.9,614.9 2550.9,634" fill="#b8891f" stroke="#b8891f" stroke-width="2.4" stroke-linejoin="round"/>
<polygon points="2569.9,628.4 2585.3,618.8 2585.3,637.9" fill="#b8891f" stroke="#b8891f" stroke-width="2.4" stroke-linejoin="round"/>
<polygon points="2638.8,633 2654.2,623.5 2654.2,642.6" fill="#b8891f" stroke="#b8891f" stroke-width="2.4" stroke-linejoin="round"/>
<polygon points="2707.6,636.9 2723,627.4 2723,646.5" fill="#b8891f" stroke="#b8891f" stroke-width="2.4" stroke-linejoin="round"/>
<polygon points="2776.5,640.5 2791.9,630.9 2791.9,650" fill="#b8891f" stroke="#b8891f" stroke-width="2.4" stroke-linejoin="round"/>
<polygon points="2845.3,645.9 2860.7,636.4 2860.7,655.5" fill="#b8891f" stroke="#b8891f" stroke-width="2.4" stroke-linejoin="round"/>
<polygon points="2911.1,649.4 2926.5,639.9 2926.5,659" fill="#b8891f" stroke="#b8891f" stroke-width="2.4" stroke-linejoin="round"/>
<polygon points="2979.9,654.5 2995.3,645 2995.3,664" fill="#b8891f" stroke="#b8891f" stroke-width="2.4" stroke-linejoin="round"/>
<polygon points="3117.3,658.8 3132.7,649.2 3132.7,668.3" fill="#b8891f" stroke="#b8891f" stroke-width="2.4" stroke-linejoin="round"/>
<polygon points="3186.1,662.7 3201.5,653.1 3201.5,672.2" fill="#b8891f" stroke="#b8891f" stroke-width="2.4" stroke-linejoin="round"/>
<line x1="2483.5" y1="201.9" x2="2567.3" y2="201.9" stroke="#4a4b50" stroke-width="3.0"/>
<rect x="2514.8" y="191.3" width="21.2" height="21.2" rx="0.6" fill="#4a4b50"/>
<text x="2585.2" y="210.3" font-size="41" text-anchor="start">CaO</text>
<line x1="2483.5" y1="240.8" x2="2567.3" y2="240.8" stroke="#e8304a" stroke-width="3.0"/>
<circle cx="2525.4" cy="240.8" r="11.7" fill="#e8304a"/>
<text x="2585.2" y="252" font-size="41" text-anchor="start">SiO<tspan dy="7" font-size="24">2</tspan></text>
<line x1="2483.5" y1="285.3" x2="2567.3" y2="285.3" stroke="#3f6cbf" stroke-width="3.0"/>
<polygon points="2525.4,271.4 2537.4,292.2 2513.4,292.2" fill="#3f6cbf" stroke="#3f6cbf" stroke-width="2.4" stroke-linejoin="round"/>
<text x="2585.2" y="296.9" font-size="41" text-anchor="start">MgO</text>
<line x1="2483.5" y1="325.7" x2="2567.3" y2="325.7" stroke="#47ad68" stroke-width="3.0"/>
<polygon points="2525.4,339.6 2537.4,318.8 2513.4,318.8" fill="#47ad68" stroke="#47ad68" stroke-width="2.4" stroke-linejoin="round"/>
<text x="2585.2" y="340.8" font-size="41" text-anchor="start">Al<tspan dy="13.4" font-size="24">2</tspan><tspan dy="-13.4">O</tspan><tspan dy="5.7" font-size="24">3</tspan></text>
<line x1="2483.5" y1="374.6" x2="2567.3" y2="374.6" stroke="#9467bd" stroke-width="3.0"/>
<polygon points="2525.4,361.1 2538.3,374.6 2525.4,388.1 2512.5,374.6" fill="#9467bd" stroke="#9467bd" stroke-width="2.4" stroke-linejoin="round"/>
<text x="2585.2" y="388" font-size="41" text-anchor="start">FeO</text>
<line x1="2483.5" y1="419.6" x2="2567.3" y2="419.6" stroke="#b8891f" stroke-width="3.0"/>
<polygon points="2512.1,419.6 2532.1,407.3 2532.1,431.9" fill="#b8891f" stroke="#b8891f" stroke-width="2.4" stroke-linejoin="round"/>
<text x="2585.2" y="433.6" font-size="41" text-anchor="start">TiO<tspan dy="7" font-size="24">2</tspan></text>
</g>
<g>
<line x1="424.4" y1="1545.4" x2="424.4" y2="1532.4" stroke="#231f20" stroke-width="2.9"/>
<line x1="570.3" y1="1545.4" x2="570.3" y2="1532.4" stroke="#231f20" stroke-width="2.9"/>
<line x1="716.3" y1="1545.4" x2="716.3" y2="1532.4" stroke="#231f20" stroke-width="2.9"/>
<line x1="862.2" y1="1545.4" x2="862.2" y2="1532.4" stroke="#231f20" stroke-width="2.9"/>
<line x1="1008.2" y1="1545.4" x2="1008.2" y2="1532.4" stroke="#231f20" stroke-width="2.9"/>
<line x1="278.4" y1="1457.2" x2="291.4" y2="1457.2" stroke="#231f20" stroke-width="2.9"/>
<line x1="278.4" y1="1369" x2="291.4" y2="1369" stroke="#231f20" stroke-width="2.9"/>
<line x1="278.4" y1="1280.8" x2="291.4" y2="1280.8" stroke="#231f20" stroke-width="2.9"/>
<line x1="278.4" y1="1192.5" x2="291.4" y2="1192.5" stroke="#231f20" stroke-width="2.9"/>
<line x1="278.4" y1="1104.3" x2="291.4" y2="1104.3" stroke="#231f20" stroke-width="2.9"/>
<line x1="278.4" y1="1016.1" x2="291.4" y2="1016.1" stroke="#231f20" stroke-width="2.9"/>
<line x1="278.4" y1="927.9" x2="291.4" y2="927.9" stroke="#231f20" stroke-width="2.9"/>
<rect x="278.4" y="882.7" width="827.1" height="662.7" fill="none" stroke="#231f20" stroke-width="3.1"/>
<text x="277.8" y="1603.2" font-size="55" text-anchor="middle">6.0</text>
<text x="423.8" y="1603.2" font-size="55" text-anchor="middle">7.5</text>
<text x="569.7" y="1603.2" font-size="55" text-anchor="middle">9.0</text>
<text x="715.7" y="1603.2" font-size="55" text-anchor="middle">10.5</text>
<text x="861.6" y="1603.2" font-size="55" text-anchor="middle">12.0</text>
<text x="1007.6" y="1603.2" font-size="55" text-anchor="middle">13.5</text>
<text x="256.9" y="1554.4" font-size="55" text-anchor="end">0</text>
<text x="256.9" y="1467.4" font-size="55" text-anchor="end">0.02</text>
<text x="256.9" y="1380.3" font-size="55" text-anchor="end">0.04</text>
<text x="256.9" y="1293.3" font-size="55" text-anchor="end">0.06</text>
<text x="256.9" y="1206.2" font-size="55" text-anchor="end">0.08</text>
<text x="256.9" y="1119.2" font-size="55" text-anchor="end">0.10</text>
<text x="256.9" y="1032.1" font-size="55" text-anchor="end">0.12</text>
<text x="256.9" y="945.1" font-size="55" text-anchor="end">0.14</text>
<text x="692" y="1688" font-size="56" text-anchor="middle"><tspan font-style="italic">w</tspan>(Al<tspan dy="12" font-size="32">2</tspan><tspan dy="-12">O</tspan><tspan dy="12" font-size="32">3</tspan><tspan dy="-12">)</tspan>/<tspan font-style="italic">%</tspan></text>
<text transform="translate(122.7,1213.6) rotate(-90)" font-size="55" text-anchor="middle" font-style="italic">x</text>
<text x="288.9" y="944.8" font-size="55" text-anchor="start">(d)</text>
<polyline points="351.4,1461.6 448.7,1463.4 546,1463.8 643.3,1465.1 740.6,1466.4 837.9,1468.2 935.2,1469.5 1032.5,1470.9" fill="none" stroke="#4a4b50" stroke-width="3.3" stroke-linejoin="round"/>
<rect x="343" y="1453.2" width="16.8" height="16.8" rx="1.6" fill="#4a4b50"/>
<rect x="440.3" y="1455" width="16.8" height="16.8" rx="1.6" fill="#4a4b50"/>
<rect x="537.6" y="1455.4" width="16.8" height="16.8" rx="1.6" fill="#4a4b50"/>
<rect x="634.9" y="1456.7" width="16.8" height="16.8" rx="1.6" fill="#4a4b50"/>
<rect x="732.2" y="1458" width="16.8" height="16.8" rx="1.6" fill="#4a4b50"/>
<rect x="829.5" y="1459.8" width="16.8" height="16.8" rx="1.6" fill="#4a4b50"/>
<rect x="926.8" y="1461.1" width="16.8" height="16.8" rx="1.6" fill="#4a4b50"/>
<rect x="1024.1" y="1462.5" width="16.8" height="16.8" rx="1.6" fill="#4a4b50"/>
<polyline points="351.4,1449.2 448.7,1446.2 546,1440.9 643.3,1438.7 740.6,1436.5 837.9,1434.7 935.2,1432.5 1032.5,1431.2" fill="none" stroke="#e8304a" stroke-width="3.3" stroke-linejoin="round"/>
<circle cx="351.4" cy="1449.2" r="9.3" fill="#e8304a"/>
<circle cx="448.7" cy="1446.2" r="9.3" fill="#e8304a"/>
<circle cx="546" cy="1440.9" r="9.3" fill="#e8304a"/>
<circle cx="643.3" cy="1438.7" r="9.3" fill="#e8304a"/>
<circle cx="740.6" cy="1436.5" r="9.3" fill="#e8304a"/>
<circle cx="837.9" cy="1434.7" r="9.3" fill="#e8304a"/>
<circle cx="935.2" cy="1432.5" r="9.3" fill="#e8304a"/>
<circle cx="1032.5" cy="1431.2" r="9.3" fill="#e8304a"/>
<polyline points="351.4,1281.2 448.7,1285.6 546,1290.5 643.3,1296.2 740.6,1301.9 837.9,1308.1 935.2,1314.7 1032.5,1321.3" fill="none" stroke="#3f6cbf" stroke-width="3.3" stroke-linejoin="round"/>
<polygon points="351.4,1270.5 360.7,1286.6 342.1,1286.6" fill="#3f6cbf" stroke="#3f6cbf" stroke-width="2.4" stroke-linejoin="round"/>
<polygon points="448.7,1274.9 458,1291 439.4,1291" fill="#3f6cbf" stroke="#3f6cbf" stroke-width="2.4" stroke-linejoin="round"/>
<polygon points="546,1279.7 555.3,1295.8 536.7,1295.8" fill="#3f6cbf" stroke="#3f6cbf" stroke-width="2.4" stroke-linejoin="round"/>
<polygon points="643.3,1285.5 652.6,1301.6 634,1301.6" fill="#3f6cbf" stroke="#3f6cbf" stroke-width="2.4" stroke-linejoin="round"/>
<polygon points="740.6,1291.2 749.9,1307.3 731.3,1307.3" fill="#3f6cbf" stroke="#3f6cbf" stroke-width="2.4" stroke-linejoin="round"/>
<polygon points="837.9,1297.4 847.2,1313.5 828.6,1313.5" fill="#3f6cbf" stroke="#3f6cbf" stroke-width="2.4" stroke-linejoin="round"/>
<polygon points="935.2,1304 944.5,1320.1 925.9,1320.1" fill="#3f6cbf" stroke="#3f6cbf" stroke-width="2.4" stroke-linejoin="round"/>
<polygon points="1032.5,1310.6 1041.8,1326.7 1023.2,1326.7" fill="#3f6cbf" stroke="#3f6cbf" stroke-width="2.4" stroke-linejoin="round"/>
<polyline points="351.4,1448.4 448.7,1428.5 546,1414.8 643.3,1389.7 740.6,1368.1 837.9,1333.2 935.2,1309.4 1032.5,1281.2" fill="none" stroke="#47ad68" stroke-width="3.3" stroke-linejoin="round"/>
<polygon points="351.4,1459.1 360.7,1443 342.1,1443" fill="#47ad68" stroke="#47ad68" stroke-width="2.4" stroke-linejoin="round"/>
<polygon points="448.7,1439.3 458,1423.2 439.4,1423.2" fill="#47ad68" stroke="#47ad68" stroke-width="2.4" stroke-linejoin="round"/>
<polygon points="546,1425.6 555.3,1409.5 536.7,1409.5" fill="#47ad68" stroke="#47ad68" stroke-width="2.4" stroke-linejoin="round"/>
<polygon points="643.3,1400.4 652.6,1384.3 634,1384.3" fill="#47ad68" stroke="#47ad68" stroke-width="2.4" stroke-linejoin="round"/>
<polygon points="740.6,1378.8 749.9,1362.7 731.3,1362.7" fill="#47ad68" stroke="#47ad68" stroke-width="2.4" stroke-linejoin="round"/>
<polygon points="837.9,1344 847.2,1327.9 828.6,1327.9" fill="#47ad68" stroke="#47ad68" stroke-width="2.4" stroke-linejoin="round"/>
<polygon points="935.2,1320.2 944.5,1304.1 925.9,1304.1" fill="#47ad68" stroke="#47ad68" stroke-width="2.4" stroke-linejoin="round"/>
<polygon points="1032.5,1291.9 1041.8,1275.8 1023.2,1275.8" fill="#47ad68" stroke="#47ad68" stroke-width="2.4" stroke-linejoin="round"/>
<polyline points="351.4,890 448.7,901 546,917.8 643.3,929.2 740.6,939.4 837.9,949.5 935.2,958.3 1032.5,965" fill="none" stroke="#9467bd" stroke-width="3.3" stroke-linejoin="round"/>
<polygon points="351.4,879.5 361.4,890 351.4,900.5 341.4,890" fill="#9467bd" stroke="#9467bd" stroke-width="2.4" stroke-linejoin="round"/>
<polygon points="448.7,890.5 458.7,901 448.7,911.5 438.7,901" fill="#9467bd" stroke="#9467bd" stroke-width="2.4" stroke-linejoin="round"/>
<polygon points="546,907.3 556,917.8 546,928.3 536,917.8" fill="#9467bd" stroke="#9467bd" stroke-width="2.4" stroke-linejoin="round"/>
<polygon points="643.3,918.7 653.3,929.2 643.3,939.7 633.3,929.2" fill="#9467bd" stroke="#9467bd" stroke-width="2.4" stroke-linejoin="round"/>
<polygon points="740.6,928.9 750.6,939.4 740.6,949.9 730.6,939.4" fill="#9467bd" stroke="#9467bd" stroke-width="2.4" stroke-linejoin="round"/>
<polygon points="837.9,939 847.9,949.5 837.9,960 827.9,949.5" fill="#9467bd" stroke="#9467bd" stroke-width="2.4" stroke-linejoin="round"/>
<polygon points="935.2,947.8 945.2,958.3 935.2,968.9 925.2,958.3" fill="#9467bd" stroke="#9467bd" stroke-width="2.4" stroke-linejoin="round"/>
<polygon points="1032.5,954.4 1042.5,965 1032.5,975.5 1022.5,965" fill="#9467bd" stroke="#9467bd" stroke-width="2.4" stroke-linejoin="round"/>
<polyline points="351.4,1488.5 448.7,1489.8 546,1490.7 643.3,1491.1 740.6,1491.6 837.9,1492 935.2,1492.5 1032.5,1492.5" fill="none" stroke="#b8891f" stroke-width="3.3" stroke-linejoin="round"/>
<polygon points="341.1,1488.5 356.5,1479 356.5,1498" fill="#b8891f" stroke="#b8891f" stroke-width="2.4" stroke-linejoin="round"/>
<polygon points="438.4,1489.8 453.8,1480.3 453.8,1499.4" fill="#b8891f" stroke="#b8891f" stroke-width="2.4" stroke-linejoin="round"/>
<polygon points="535.7,1490.7 551.1,1481.2 551.1,1500.2" fill="#b8891f" stroke="#b8891f" stroke-width="2.4" stroke-linejoin="round"/>
<polygon points="633,1491.1 648.4,1481.6 648.4,1500.7" fill="#b8891f" stroke="#b8891f" stroke-width="2.4" stroke-linejoin="round"/>
<polygon points="730.3,1491.6 745.7,1482.1 745.7,1501.1" fill="#b8891f" stroke="#b8891f" stroke-width="2.4" stroke-linejoin="round"/>
<polygon points="827.6,1492 843,1482.5 843,1501.6" fill="#b8891f" stroke="#b8891f" stroke-width="2.4" stroke-linejoin="round"/>
<polygon points="924.9,1492.5 940.3,1482.9 940.3,1502" fill="#b8891f" stroke="#b8891f" stroke-width="2.4" stroke-linejoin="round"/>
<polygon points="1022.3,1492.5 1037.7,1482.9 1037.7,1502" fill="#b8891f" stroke="#b8891f" stroke-width="2.4" stroke-linejoin="round"/>
<line x1="877.7" y1="1015.9" x2="961.5" y2="1015.9" stroke="#4a4b50" stroke-width="3.0"/>
<rect x="909" y="1005.3" width="21.2" height="21.2" rx="0.6" fill="#4a4b50"/>
<text x="979.4" y="1024.3" font-size="41" text-anchor="start">CaO</text>
<line x1="877.7" y1="1054.8" x2="961.5" y2="1054.8" stroke="#e8304a" stroke-width="3.0"/>
<circle cx="919.6" cy="1054.8" r="11.7" fill="#e8304a"/>
<text x="979.4" y="1066" font-size="41" text-anchor="start">SiO<tspan dy="7" font-size="24">2</tspan></text>
<line x1="877.7" y1="1099.3" x2="961.5" y2="1099.3" stroke="#3f6cbf" stroke-width="3.0"/>
<polygon points="919.6,1085.4 931.6,1106.2 907.6,1106.2" fill="#3f6cbf" stroke="#3f6cbf" stroke-width="2.4" stroke-linejoin="round"/>
<text x="979.4" y="1110.9" font-size="41" text-anchor="start">MgO</text>
<line x1="877.7" y1="1139.7" x2="961.5" y2="1139.7" stroke="#47ad68" stroke-width="3.0"/>
<polygon points="919.6,1153.6 931.6,1132.8 907.6,1132.8" fill="#47ad68" stroke="#47ad68" stroke-width="2.4" stroke-linejoin="round"/>
<text x="979.4" y="1154.8" font-size="41" text-anchor="start">Al<tspan dy="13.4" font-size="24">2</tspan><tspan dy="-13.4">O</tspan><tspan dy="5.7" font-size="24">3</tspan></text>
<line x1="877.7" y1="1188.6" x2="961.5" y2="1188.6" stroke="#9467bd" stroke-width="3.0"/>
<polygon points="919.6,1175.1 932.5,1188.6 919.6,1202.1 906.7,1188.6" fill="#9467bd" stroke="#9467bd" stroke-width="2.4" stroke-linejoin="round"/>
<text x="979.4" y="1202" font-size="41" text-anchor="start">FeO</text>
<line x1="877.7" y1="1233.6" x2="961.5" y2="1233.6" stroke="#b8891f" stroke-width="3.0"/>
<polygon points="906.3,1233.6 926.2,1221.3 926.2,1245.9" fill="#b8891f" stroke="#b8891f" stroke-width="2.4" stroke-linejoin="round"/>
<text x="979.4" y="1247.6" font-size="41" text-anchor="start">TiO<tspan dy="7" font-size="24">2</tspan></text>
</g>
<g>
<line x1="1374.8" y1="1425" x2="1387.8" y2="1425" stroke="#231f20" stroke-width="2.9"/>
<line x1="1374.8" y1="1304.5" x2="1387.8" y2="1304.5" stroke="#231f20" stroke-width="2.9"/>
<line x1="1374.8" y1="1184.1" x2="1387.8" y2="1184.1" stroke="#231f20" stroke-width="2.9"/>
<line x1="1374.8" y1="1063.6" x2="1387.8" y2="1063.6" stroke="#231f20" stroke-width="2.9"/>
<line x1="1374.8" y1="943.2" x2="1387.8" y2="943.2" stroke="#231f20" stroke-width="2.9"/>
<rect x="1374.8" y="882.7" width="826.8" height="662.7" fill="none" stroke="#231f20" stroke-width="3.1"/>
<text x="1434" y="1603.2" font-size="55" text-anchor="middle">4</text>
<text x="1552.1" y="1603.2" font-size="55" text-anchor="middle">5</text>
<text x="1670.2" y="1603.2" font-size="55" text-anchor="middle">6</text>
<text x="1788.3" y="1603.2" font-size="55" text-anchor="middle">7</text>
<text x="1906.4" y="1603.2" font-size="55" text-anchor="middle">8</text>
<text x="2024.5" y="1603.2" font-size="55" text-anchor="middle">9</text>
<text x="2142.6" y="1603.2" font-size="55" text-anchor="middle">10</text>
<text x="1352.7" y="1558.1" font-size="55" text-anchor="end">0</text>
<text x="1352.7" y="1438.3" font-size="55" text-anchor="end">0.05</text>
<text x="1352.7" y="1318.6" font-size="55" text-anchor="end">0.10</text>
<text x="1352.7" y="1198.8" font-size="55" text-anchor="end">0.15</text>
<text x="1352.7" y="1079" font-size="55" text-anchor="end">0.20</text>
<text x="1352.7" y="959.3" font-size="55" text-anchor="end">0.25</text>
<text x="1788.2" y="1702" font-size="56" text-anchor="middle"><tspan font-style="italic">w</tspan>(FeO)/<tspan font-style="italic">%</tspan></text>
<text transform="translate(1218.5,1213.6) rotate(-90)" font-size="55" text-anchor="middle" font-style="italic">x</text>
<text x="1385.1" y="943.8" font-size="55" text-anchor="start">(e)</text>
<polyline points="1433.9,1473.4 1552,1478.9 1670.1,1483.5 1788.2,1486.1 1906.3,1488.5 2024.4,1491 2142.5,1492.6" fill="none" stroke="#4a4b50" stroke-width="3.3" stroke-linejoin="round"/>
<rect x="1425.5" y="1465" width="16.8" height="16.8" rx="1.6" fill="#4a4b50"/>
<rect x="1543.6" y="1470.5" width="16.8" height="16.8" rx="1.6" fill="#4a4b50"/>
<rect x="1661.7" y="1475.1" width="16.8" height="16.8" rx="1.6" fill="#4a4b50"/>
<rect x="1779.8" y="1477.7" width="16.8" height="16.8" rx="1.6" fill="#4a4b50"/>
<rect x="1897.9" y="1480.1" width="16.8" height="16.8" rx="1.6" fill="#4a4b50"/>
<rect x="2016" y="1482.6" width="16.8" height="16.8" rx="1.6" fill="#4a4b50"/>
<rect x="2134.1" y="1484.2" width="16.8" height="16.8" rx="1.6" fill="#4a4b50"/>
<polyline points="1433.9,1461.1 1552,1466.9 1670.1,1467.8 1788.2,1468.1 1906.3,1468.6 2024.4,1468.8 2142.5,1469.3" fill="none" stroke="#e8304a" stroke-width="3.3" stroke-linejoin="round"/>
<circle cx="1433.9" cy="1461.1" r="9.3" fill="#e8304a"/>
<circle cx="1552" cy="1466.9" r="9.3" fill="#e8304a"/>
<circle cx="1670.1" cy="1467.8" r="9.3" fill="#e8304a"/>
<circle cx="1788.2" cy="1468.1" r="9.3" fill="#e8304a"/>
<circle cx="1906.3" cy="1468.6" r="9.3" fill="#e8304a"/>
<circle cx="2024.4" cy="1468.8" r="9.3" fill="#e8304a"/>
<circle cx="2142.5" cy="1469.3" r="9.3" fill="#e8304a"/>
<polyline points="1433.9,1418.4 1552,1419.2 1670.1,1420.4 1788.2,1421.8 1906.3,1423 2024.4,1423.7 2142.5,1425.2" fill="none" stroke="#3f6cbf" stroke-width="3.3" stroke-linejoin="round"/>
<polygon points="1433.9,1407.7 1443.1,1423.8 1424.6,1423.8" fill="#3f6cbf" stroke="#3f6cbf" stroke-width="2.4" stroke-linejoin="round"/>
<polygon points="1552,1408.4 1561.3,1424.5 1542.7,1424.5" fill="#3f6cbf" stroke="#3f6cbf" stroke-width="2.4" stroke-linejoin="round"/>
<polygon points="1670.1,1409.6 1679.4,1425.7 1660.8,1425.7" fill="#3f6cbf" stroke="#3f6cbf" stroke-width="2.4" stroke-linejoin="round"/>
<polygon points="1788.2,1411.1 1797.5,1427.2 1778.9,1427.2" fill="#3f6cbf" stroke="#3f6cbf" stroke-width="2.4" stroke-linejoin="round"/>
<polygon points="1906.3,1412.3 1915.6,1428.4 1897,1428.4" fill="#3f6cbf" stroke="#3f6cbf" stroke-width="2.4" stroke-linejoin="round"/>
<polygon points="2024.4,1413 2033.7,1429.1 2015.1,1429.1" fill="#3f6cbf" stroke="#3f6cbf" stroke-width="2.4" stroke-linejoin="round"/>
<polygon points="2142.5,1414.5 2151.8,1430.6 2133.3,1430.6" fill="#3f6cbf" stroke="#3f6cbf" stroke-width="2.4" stroke-linejoin="round"/>
<polyline points="1433.9,1401.6 1552,1419.7 1670.1,1425.9 1788.2,1438 1906.3,1449.5 2024.4,1455.8 2142.5,1461.3" fill="none" stroke="#47ad68" stroke-width="3.3" stroke-linejoin="round"/>
<polygon points="1433.9,1412.3 1443.1,1396.2 1424.6,1396.2" fill="#47ad68" stroke="#47ad68" stroke-width="2.4" stroke-linejoin="round"/>
<polygon points="1552,1430.4 1561.3,1414.3 1542.7,1414.3" fill="#47ad68" stroke="#47ad68" stroke-width="2.4" stroke-linejoin="round"/>
<polygon points="1670.1,1436.6 1679.4,1420.5 1660.8,1420.5" fill="#47ad68" stroke="#47ad68" stroke-width="2.4" stroke-linejoin="round"/>
<polygon points="1788.2,1448.7 1797.5,1432.6 1778.9,1432.6" fill="#47ad68" stroke="#47ad68" stroke-width="2.4" stroke-linejoin="round"/>
<polygon points="1906.3,1460.3 1915.6,1444.2 1897,1444.2" fill="#47ad68" stroke="#47ad68" stroke-width="2.4" stroke-linejoin="round"/>
<polygon points="2024.4,1466.5 2033.7,1450.4 2015.1,1450.4" fill="#47ad68" stroke="#47ad68" stroke-width="2.4" stroke-linejoin="round"/>
<polygon points="2142.5,1472.1 2151.8,1456 2133.3,1456" fill="#47ad68" stroke="#47ad68" stroke-width="2.4" stroke-linejoin="round"/>
<polyline points="1433.9,1352.4 1552,1279.2 1670.1,1220 1788.2,1159.2 1906.3,1101.4 2024.4,1040.5 2142.5,954" fill="none" stroke="#9467bd" stroke-width="3.3" stroke-linejoin="round"/>
<polygon points="1433.9,1341.9 1443.9,1352.4 1433.9,1363 1423.8,1352.4" fill="#9467bd" stroke="#9467bd" stroke-width="2.4" stroke-linejoin="round"/>
<polygon points="1552,1268.7 1562,1279.2 1552,1289.7 1542,1279.2" fill="#9467bd" stroke="#9467bd" stroke-width="2.4" stroke-linejoin="round"/>
<polygon points="1670.1,1209.4 1680.1,1220 1670.1,1230.5 1660.1,1220" fill="#9467bd" stroke="#9467bd" stroke-width="2.4" stroke-linejoin="round"/>
<polygon points="1788.2,1148.7 1798.2,1159.2 1788.2,1169.8 1778.2,1159.2" fill="#9467bd" stroke="#9467bd" stroke-width="2.4" stroke-linejoin="round"/>
<polygon points="1906.3,1090.9 1916.3,1101.4 1906.3,1111.9 1896.3,1101.4" fill="#9467bd" stroke="#9467bd" stroke-width="2.4" stroke-linejoin="round"/>
<polygon points="2024.4,1030 2034.4,1040.5 2024.4,1051 2014.4,1040.5" fill="#9467bd" stroke="#9467bd" stroke-width="2.4" stroke-linejoin="round"/>
<polygon points="2142.5,943.5 2152.6,954 2142.5,964.5 2132.5,954" fill="#9467bd" stroke="#9467bd" stroke-width="2.4" stroke-linejoin="round"/>
<polyline points="1433.9,1539.1 1552,1539.9 1670.1,1540.6 1788.2,1540.8 1906.3,1541.3 2024.4,1541.5 2142.5,1542" fill="none" stroke="#b8891f" stroke-width="3.3" stroke-linejoin="round"/>
<polygon points="1423.6,1539.1 1439,1529.6 1439,1548.7" fill="#b8891f" stroke="#b8891f" stroke-width="2.4" stroke-linejoin="round"/>
<polygon points="1541.7,1539.9 1557.1,1530.3 1557.1,1549.4" fill="#b8891f" stroke="#b8891f" stroke-width="2.4" stroke-linejoin="round"/>
<polygon points="1659.8,1540.6 1675.2,1531 1675.2,1550.1" fill="#b8891f" stroke="#b8891f" stroke-width="2.4" stroke-linejoin="round"/>
<polygon points="1777.9,1540.8 1793.3,1531.3 1793.3,1550.4" fill="#b8891f" stroke="#b8891f" stroke-width="2.4" stroke-linejoin="round"/>
<polygon points="1896,1541.3 1911.4,1531.8 1911.4,1550.8" fill="#b8891f" stroke="#b8891f" stroke-width="2.4" stroke-linejoin="round"/>
<polygon points="2014.2,1541.5 2029.6,1532 2029.6,1551.1" fill="#b8891f" stroke="#b8891f" stroke-width="2.4" stroke-linejoin="round"/>
<polygon points="2132.3,1542 2147.7,1532.5 2147.7,1551.6" fill="#b8891f" stroke="#b8891f" stroke-width="2.4" stroke-linejoin="round"/>
<line x1="1980.6" y1="1134.5" x2="2064.4" y2="1134.5" stroke="#4a4b50" stroke-width="3.0"/>
<rect x="2011.9" y="1123.9" width="21.2" height="21.2" rx="0.6" fill="#4a4b50"/>
<text x="2082.3" y="1142.9" font-size="41" text-anchor="start">CaO</text>
<line x1="1980.6" y1="1173.4" x2="2064.4" y2="1173.4" stroke="#e8304a" stroke-width="3.0"/>
<circle cx="2022.5" cy="1173.4" r="11.7" fill="#e8304a"/>
<text x="2082.3" y="1184.6" font-size="41" text-anchor="start">SiO<tspan dy="7" font-size="24">2</tspan></text>
<line x1="1980.6" y1="1217.9" x2="2064.4" y2="1217.9" stroke="#3f6cbf" stroke-width="3.0"/>
<polygon points="2022.5,1204 2034.5,1224.8 2010.5,1224.8" fill="#3f6cbf" stroke="#3f6cbf" stroke-width="2.4" stroke-linejoin="round"/>
<text x="2082.3" y="1229.5" font-size="41" text-anchor="start">MgO</text>
<line x1="1980.6" y1="1258.3" x2="2064.4" y2="1258.3" stroke="#47ad68" stroke-width="3.0"/>
<polygon points="2022.5,1272.2 2034.5,1251.4 2010.5,1251.4" fill="#47ad68" stroke="#47ad68" stroke-width="2.4" stroke-linejoin="round"/>
<text x="2082.3" y="1273.4" font-size="41" text-anchor="start">Al<tspan dy="13.4" font-size="24">2</tspan><tspan dy="-13.4">O</tspan><tspan dy="5.7" font-size="24">3</tspan></text>
<line x1="1980.6" y1="1307.2" x2="2064.4" y2="1307.2" stroke="#9467bd" stroke-width="3.0"/>
<polygon points="2022.5,1293.7 2035.4,1307.2 2022.5,1320.7 2009.6,1307.2" fill="#9467bd" stroke="#9467bd" stroke-width="2.4" stroke-linejoin="round"/>
<text x="2082.3" y="1320.6" font-size="41" text-anchor="start">FeO</text>
<line x1="1980.6" y1="1352.2" x2="2064.4" y2="1352.2" stroke="#b8891f" stroke-width="3.0"/>
<polygon points="2009.2,1352.2 2029.2,1339.9 2029.2,1364.5" fill="#b8891f" stroke="#b8891f" stroke-width="2.4" stroke-linejoin="round"/>
<text x="2082.3" y="1366.2" font-size="41" text-anchor="start">TiO<tspan dy="7" font-size="24">2</tspan></text>
</g>
<g>
<line x1="2592.7" y1="1545.4" x2="2592.7" y2="1532.4" stroke="#231f20" stroke-width="2.9"/>
<line x1="2742.9" y1="1545.4" x2="2742.9" y2="1532.4" stroke="#231f20" stroke-width="2.9"/>
<line x1="2893.2" y1="1545.4" x2="2893.2" y2="1532.4" stroke="#231f20" stroke-width="2.9"/>
<line x1="3043.4" y1="1545.4" x2="3043.4" y2="1532.4" stroke="#231f20" stroke-width="2.9"/>
<line x1="3193.6" y1="1545.4" x2="3193.6" y2="1532.4" stroke="#231f20" stroke-width="2.9"/>
<line x1="2442.5" y1="1498.9" x2="2455.5" y2="1498.9" stroke="#231f20" stroke-width="2.9"/>
<line x1="2442.5" y1="1404" x2="2455.5" y2="1404" stroke="#231f20" stroke-width="2.9"/>
<line x1="2442.5" y1="1309.2" x2="2455.5" y2="1309.2" stroke="#231f20" stroke-width="2.9"/>
<line x1="2442.5" y1="1214.3" x2="2455.5" y2="1214.3" stroke="#231f20" stroke-width="2.9"/>
<line x1="2442.5" y1="1119.4" x2="2455.5" y2="1119.4" stroke="#231f20" stroke-width="2.9"/>
<line x1="2442.5" y1="1024.5" x2="2455.5" y2="1024.5" stroke="#231f20" stroke-width="2.9"/>
<line x1="2442.5" y1="929.7" x2="2455.5" y2="929.7" stroke="#231f20" stroke-width="2.9"/>
<rect x="2442.5" y="882.7" width="826.2" height="662.7" fill="none" stroke="#231f20" stroke-width="3.1"/>
<text x="2443.2" y="1603.2" font-size="55" text-anchor="middle">4</text>
<text x="2593.4" y="1603.2" font-size="55" text-anchor="middle">6</text>
<text x="2743.6" y="1603.2" font-size="55" text-anchor="middle">8</text>
<text x="2893.9" y="1603.2" font-size="55" text-anchor="middle">10</text>
<text x="3044.1" y="1603.2" font-size="55" text-anchor="middle">12</text>
<text x="3194.3" y="1603.2" font-size="55" text-anchor="middle">14</text>
<text x="2418.3" y="1512.7" font-size="55" text-anchor="end">0.02</text>
<text x="2418.3" y="1417.7" font-size="55" text-anchor="end">0.04</text>
<text x="2418.3" y="1322.6" font-size="55" text-anchor="end">0.06</text>
<text x="2418.3" y="1227.6" font-size="55" text-anchor="end">0.08</text>
<text x="2418.3" y="1132.5" font-size="55" text-anchor="end">0.10</text>
<text x="2418.3" y="1037.5" font-size="55" text-anchor="end">0.12</text>
<text x="2418.3" y="942.4" font-size="55" text-anchor="end">0.14</text>
<text x="2855.6" y="1688" font-size="56" text-anchor="middle"><tspan font-style="italic">w</tspan>(TiO<tspan dy="12" font-size="32">2</tspan><tspan dy="-12">)</tspan>/<tspan font-style="italic">%</tspan></text>
<text transform="translate(2284,1213.6) rotate(-90)" font-size="55" text-anchor="middle" font-style="italic">x</text>
<text x="2463.1" y="943.8" font-size="55" text-anchor="start">(f)</text>
<polyline points="2517.6,1502.2 2607.7,1505.1 2697.9,1508.4 2788,1513.6 2878.1,1519.8 2968.3,1526 3058.4,1534.5 3148.5,1541.1" fill="none" stroke="#4a4b50" stroke-width="3.3" stroke-linejoin="round"/>
<rect x="2509.2" y="1493.8" width="16.8" height="16.8" rx="1.6" fill="#4a4b50"/>
<rect x="2599.3" y="1496.7" width="16.8" height="16.8" rx="1.6" fill="#4a4b50"/>
<rect x="2689.5" y="1500" width="16.8" height="16.8" rx="1.6" fill="#4a4b50"/>
<rect x="2779.6" y="1505.2" width="16.8" height="16.8" rx="1.6" fill="#4a4b50"/>
<rect x="2869.7" y="1511.4" width="16.8" height="16.8" rx="1.6" fill="#4a4b50"/>
<rect x="2959.9" y="1517.6" width="16.8" height="16.8" rx="1.6" fill="#4a4b50"/>
<rect x="3050" y="1526.1" width="16.8" height="16.8" rx="1.6" fill="#4a4b50"/>
<rect x="3140.1" y="1532.7" width="16.8" height="16.8" rx="1.6" fill="#4a4b50"/>
<polyline points="2517.6,1532.6 2607.7,1527.8 2697.9,1524.5 2788,1522.2 2878.1,1520.3 2968.3,1518.4 3058.4,1515.5 3148.5,1512.2" fill="none" stroke="#e8304a" stroke-width="3.3" stroke-linejoin="round"/>
<circle cx="2517.6" cy="1532.6" r="9.3" fill="#e8304a"/>
<circle cx="2607.7" cy="1527.8" r="9.3" fill="#e8304a"/>
<circle cx="2697.9" cy="1524.5" r="9.3" fill="#e8304a"/>
<circle cx="2788" cy="1522.2" r="9.3" fill="#e8304a"/>
<circle cx="2878.1" cy="1520.3" r="9.3" fill="#e8304a"/>
<circle cx="2968.3" cy="1518.4" r="9.3" fill="#e8304a"/>
<circle cx="3058.4" cy="1515.5" r="9.3" fill="#e8304a"/>
<circle cx="3148.5" cy="1512.2" r="9.3" fill="#e8304a"/>
<polyline points="2517.6,1314.9 2607.7,1320.1 2697.9,1325.8 2788,1332.4 2878.1,1338.6 2968.3,1349.5 3058.4,1356.6 3148.5,1365.1" fill="none" stroke="#3f6cbf" stroke-width="3.3" stroke-linejoin="round"/>
<polygon points="2517.6,1304.1 2526.9,1320.2 2508.3,1320.2" fill="#3f6cbf" stroke="#3f6cbf" stroke-width="2.4" stroke-linejoin="round"/>
<polygon points="2607.7,1309.3 2617,1325.4 2598.5,1325.4" fill="#3f6cbf" stroke="#3f6cbf" stroke-width="2.4" stroke-linejoin="round"/>
<polygon points="2697.9,1315 2707.2,1331.1 2688.6,1331.1" fill="#3f6cbf" stroke="#3f6cbf" stroke-width="2.4" stroke-linejoin="round"/>
<polygon points="2788,1321.7 2797.3,1337.8 2778.7,1337.8" fill="#3f6cbf" stroke="#3f6cbf" stroke-width="2.4" stroke-linejoin="round"/>
<polygon points="2878.1,1327.8 2887.4,1343.9 2868.8,1343.9" fill="#3f6cbf" stroke="#3f6cbf" stroke-width="2.4" stroke-linejoin="round"/>
<polygon points="2968.3,1338.8 2977.6,1354.9 2959,1354.9" fill="#3f6cbf" stroke="#3f6cbf" stroke-width="2.4" stroke-linejoin="round"/>
<polygon points="3058.4,1345.9 3067.7,1362 3049.1,1362" fill="#3f6cbf" stroke="#3f6cbf" stroke-width="2.4" stroke-linejoin="round"/>
<polygon points="3148.5,1354.4 3157.8,1370.5 3139.2,1370.5" fill="#3f6cbf" stroke="#3f6cbf" stroke-width="2.4" stroke-linejoin="round"/>
<polyline points="2517.6,1513.6 2607.7,1500.8 2697.9,1483.3 2788,1467.1 2878.1,1453.4 2968.3,1444.8 3058.4,1439.6 3148.5,1437.2" fill="none" stroke="#47ad68" stroke-width="3.3" stroke-linejoin="round"/>
<polygon points="2517.6,1524.4 2526.9,1508.3 2508.3,1508.3" fill="#47ad68" stroke="#47ad68" stroke-width="2.4" stroke-linejoin="round"/>
<polygon points="2607.7,1511.5 2617,1495.4 2598.5,1495.4" fill="#47ad68" stroke="#47ad68" stroke-width="2.4" stroke-linejoin="round"/>
<polygon points="2697.9,1494 2707.2,1477.9 2688.6,1477.9" fill="#47ad68" stroke="#47ad68" stroke-width="2.4" stroke-linejoin="round"/>
<polygon points="2788,1477.9 2797.3,1461.8 2778.7,1461.8" fill="#47ad68" stroke="#47ad68" stroke-width="2.4" stroke-linejoin="round"/>
<polygon points="2878.1,1464.1 2887.4,1448 2868.8,1448" fill="#47ad68" stroke="#47ad68" stroke-width="2.4" stroke-linejoin="round"/>
<polygon points="2968.3,1455.6 2977.6,1439.5 2959,1439.5" fill="#47ad68" stroke="#47ad68" stroke-width="2.4" stroke-linejoin="round"/>
<polygon points="3058.4,1450.3 3067.7,1434.2 3049.1,1434.2" fill="#47ad68" stroke="#47ad68" stroke-width="2.4" stroke-linejoin="round"/>
<polygon points="3148.5,1448 3157.8,1431.9 3139.2,1431.9" fill="#47ad68" stroke="#47ad68" stroke-width="2.4" stroke-linejoin="round"/>
<polyline points="2517.6,977.6 2607.7,1005.1 2697.9,1025.5 2788,1050.2 2878.1,1066.8 2968.3,1087.6 3058.4,1119.9 3148.5,1166.8" fill="none" stroke="#9467bd" stroke-width="3.3" stroke-linejoin="round"/>
<polygon points="2517.6,967.1 2527.6,977.6 2517.6,988.1 2507.6,977.6" fill="#9467bd" stroke="#9467bd" stroke-width="2.4" stroke-linejoin="round"/>
<polygon points="2607.7,994.6 2617.8,1005.1 2607.7,1015.6 2597.7,1005.1" fill="#9467bd" stroke="#9467bd" stroke-width="2.4" stroke-linejoin="round"/>
<polygon points="2697.9,1015 2707.9,1025.5 2697.9,1036 2687.9,1025.5" fill="#9467bd" stroke="#9467bd" stroke-width="2.4" stroke-linejoin="round"/>
<polygon points="2788,1039.6 2798,1050.2 2788,1060.7 2778,1050.2" fill="#9467bd" stroke="#9467bd" stroke-width="2.4" stroke-linejoin="round"/>
<polygon points="2878.1,1056.2 2888.1,1066.8 2878.1,1077.3 2868.1,1066.8" fill="#9467bd" stroke="#9467bd" stroke-width="2.4" stroke-linejoin="round"/>
<polygon points="2968.3,1077.1 2978.3,1087.6 2968.3,1098.1 2958.3,1087.6" fill="#9467bd" stroke="#9467bd" stroke-width="2.4" stroke-linejoin="round"/>
<polygon points="3058.4,1109.4 3068.4,1119.9 3058.4,1130.4 3048.4,1119.9" fill="#9467bd" stroke="#9467bd" stroke-width="2.4" stroke-linejoin="round"/>
<polygon points="3148.5,1156.3 3158.5,1166.8 3148.5,1177.4 3138.5,1166.8" fill="#9467bd" stroke="#9467bd" stroke-width="2.4" stroke-linejoin="round"/>
<polyline points="2517.6,1541.1 2607.7,1522.2 2697.9,1499.4 2788,1477.6 2878.1,1457.6 2968.3,1429.2 3058.4,1387 3148.5,1356.1" fill="none" stroke="#b8891f" stroke-width="3.3" stroke-linejoin="round"/>
<polygon points="2507.3,1541.1 2522.7,1531.6 2522.7,1550.7" fill="#b8891f" stroke="#b8891f" stroke-width="2.4" stroke-linejoin="round"/>
<polygon points="2597.5,1522.2 2612.9,1512.6 2612.9,1531.7" fill="#b8891f" stroke="#b8891f" stroke-width="2.4" stroke-linejoin="round"/>
<polygon points="2687.6,1499.4 2703,1489.8 2703,1508.9" fill="#b8891f" stroke="#b8891f" stroke-width="2.4" stroke-linejoin="round"/>
<polygon points="2777.7,1477.6 2793.1,1468 2793.1,1487.1" fill="#b8891f" stroke="#b8891f" stroke-width="2.4" stroke-linejoin="round"/>
<polygon points="2867.9,1457.6 2883.3,1448.1 2883.3,1467.2" fill="#b8891f" stroke="#b8891f" stroke-width="2.4" stroke-linejoin="round"/>
<polygon points="2958,1429.2 2973.4,1419.6 2973.4,1438.7" fill="#b8891f" stroke="#b8891f" stroke-width="2.4" stroke-linejoin="round"/>
<polygon points="3048.1,1387 3063.5,1377.4 3063.5,1396.5" fill="#b8891f" stroke="#b8891f" stroke-width="2.4" stroke-linejoin="round"/>
<polygon points="3138.3,1356.1 3153.7,1346.6 3153.7,1365.7" fill="#b8891f" stroke="#b8891f" stroke-width="2.4" stroke-linejoin="round"/>
<line x1="2483.6" y1="1056.4" x2="2567.4" y2="1056.4" stroke="#4a4b50" stroke-width="3.0"/>
<rect x="2514.9" y="1045.8" width="21.2" height="21.2" rx="0.6" fill="#4a4b50"/>
<text x="2585.3" y="1064.8" font-size="41" text-anchor="start">CaO</text>
<line x1="2483.6" y1="1095.3" x2="2567.4" y2="1095.3" stroke="#e8304a" stroke-width="3.0"/>
<circle cx="2525.5" cy="1095.3" r="11.7" fill="#e8304a"/>
<text x="2585.3" y="1106.5" font-size="41" text-anchor="start">SiO<tspan dy="7" font-size="24">2</tspan></text>
<line x1="2483.6" y1="1139.8" x2="2567.4" y2="1139.8" stroke="#3f6cbf" stroke-width="3.0"/>
<polygon points="2525.5,1125.9 2537.5,1146.7 2513.5,1146.7" fill="#3f6cbf" stroke="#3f6cbf" stroke-width="2.4" stroke-linejoin="round"/>
<text x="2585.3" y="1151.4" font-size="41" text-anchor="start">MgO</text>
<line x1="2483.6" y1="1180.2" x2="2567.4" y2="1180.2" stroke="#47ad68" stroke-width="3.0"/>
<polygon points="2525.5,1194.1 2537.5,1173.3 2513.5,1173.3" fill="#47ad68" stroke="#47ad68" stroke-width="2.4" stroke-linejoin="round"/>
<text x="2585.3" y="1195.3" font-size="41" text-anchor="start">Al<tspan dy="13.4" font-size="24">2</tspan><tspan dy="-13.4">O</tspan><tspan dy="5.7" font-size="24">3</tspan></text>
<line x1="2483.6" y1="1229.1" x2="2567.4" y2="1229.1" stroke="#9467bd" stroke-width="3.0"/>
<polygon points="2525.5,1215.6 2538.4,1229.1 2525.5,1242.6 2512.6,1229.1" fill="#9467bd" stroke="#9467bd" stroke-width="2.4" stroke-linejoin="round"/>
<text x="2585.3" y="1242.5" font-size="41" text-anchor="start">FeO</text>
<line x1="2483.6" y1="1274.1" x2="2567.4" y2="1274.1" stroke="#b8891f" stroke-width="3.0"/>
<polygon points="2512.2,1274.1 2532.2,1261.8 2532.2,1286.4" fill="#b8891f" stroke="#b8891f" stroke-width="2.4" stroke-linejoin="round"/>
<text x="2585.3" y="1288.1" font-size="41" text-anchor="start">TiO<tspan dy="7" font-size="24">2</tspan></text>
</g>
</svg>
</body>
</html>
